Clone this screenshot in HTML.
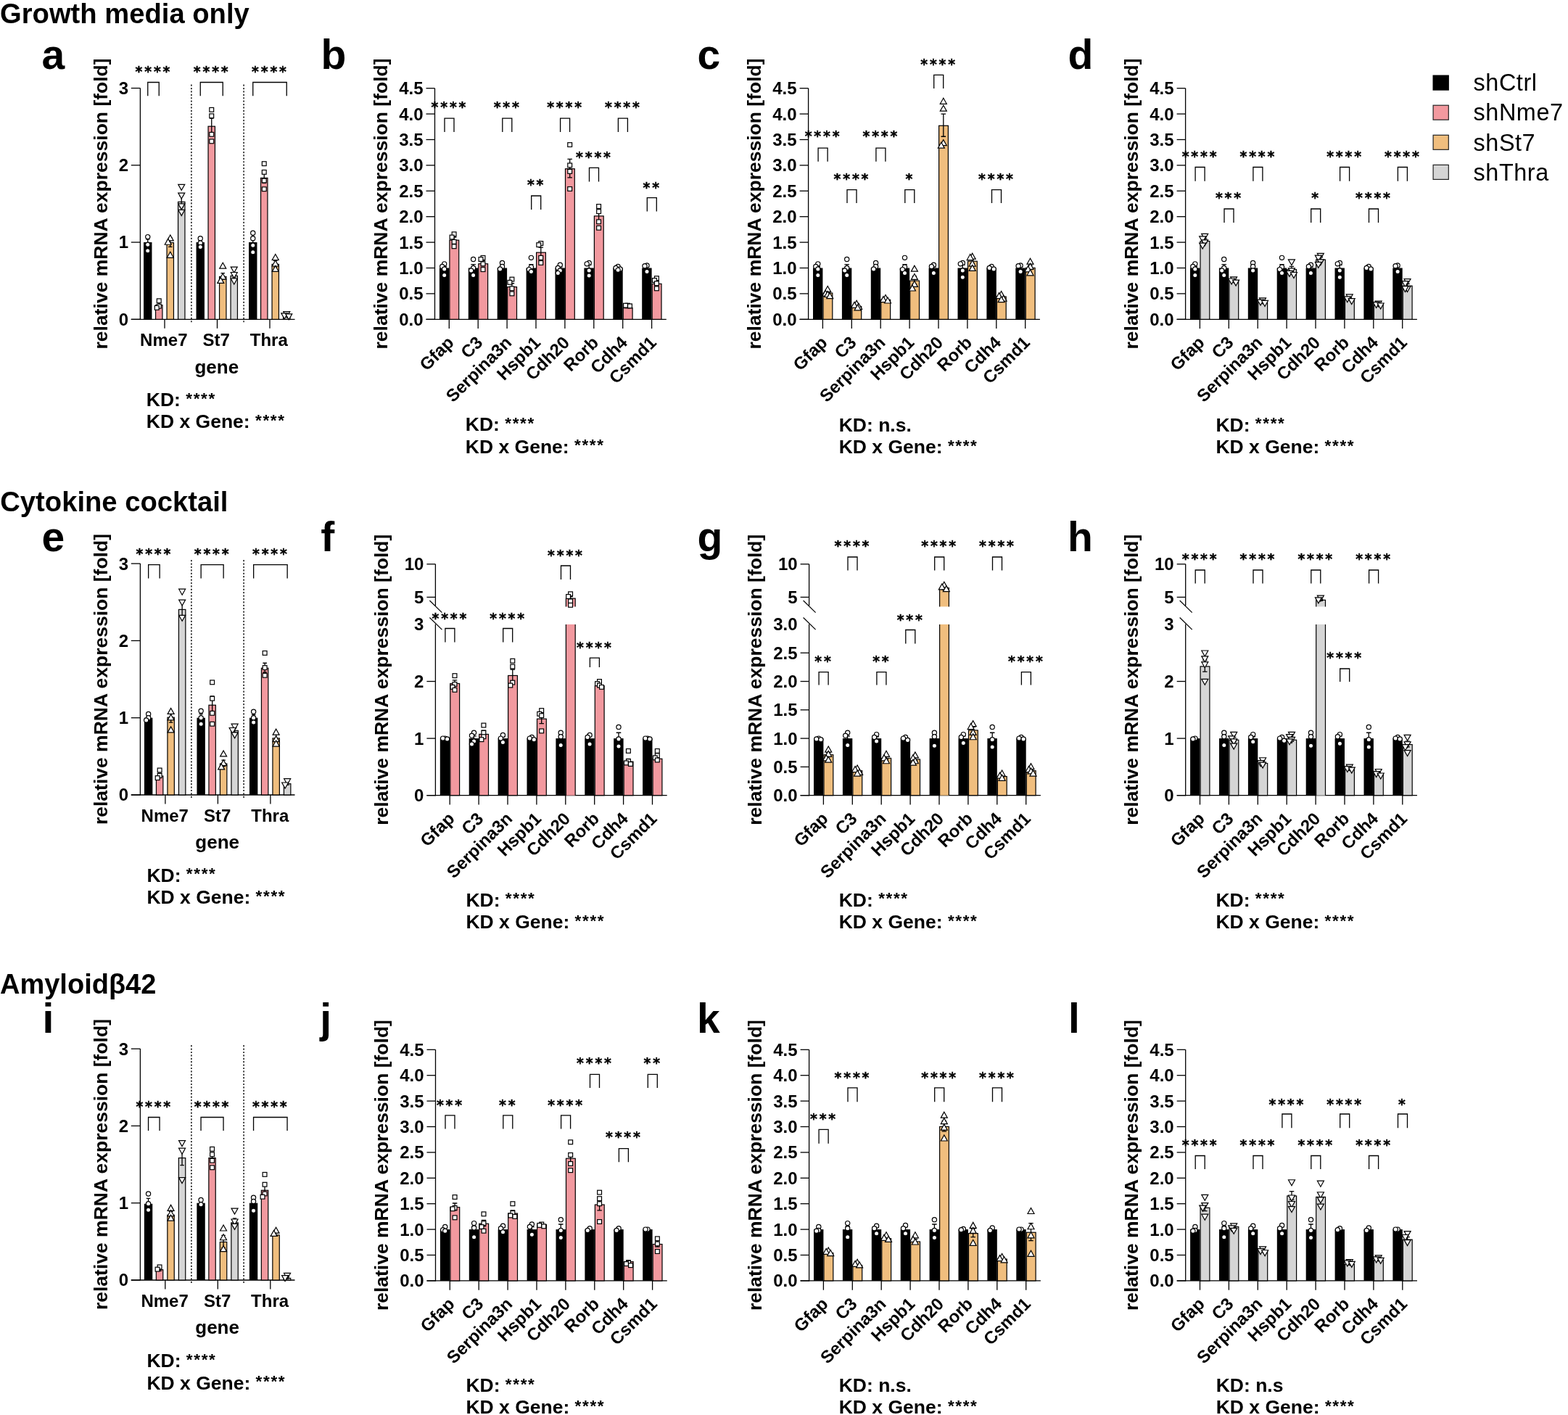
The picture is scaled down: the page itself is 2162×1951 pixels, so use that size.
<!DOCTYPE html>
<html><head><meta charset="utf-8"><title>Figure</title>
<style>
html,body{margin:0;padding:0;background:#fff;}
body{width:2162px;height:1951px;overflow:hidden;}
svg{display:block;}
svg text{font-family:'Liberation Sans', Arial, Helvetica, sans-serif;fill:#000;}
svg text.st{font-family:'DejaVu Sans',sans-serif;stroke:#000;stroke-width:0.45px;}
.m{fill:#fff;stroke:#000;stroke-width:1.2;}
</style></head><body>
<svg xmlns="http://www.w3.org/2000/svg" width="2162" height="1951" viewBox="0 0 2162 1951">
<rect width="2162" height="1951" fill="#fff"/>
<line x1="193.4" y1="121.55" x2="193.4" y2="440.9" stroke="#000" stroke-width="1.3"/>
<line x1="180.8" y1="440.3" x2="193.4" y2="440.3" stroke="#000" stroke-width="1.3"/>
<text x="177.2" y="448.7" font-size="24" font-weight="bold" text-anchor="end">0</text>
<line x1="180.8" y1="334.05" x2="193.4" y2="334.05" stroke="#000" stroke-width="1.3"/>
<text x="177.2" y="342.45" font-size="24" font-weight="bold" text-anchor="end">1</text>
<line x1="180.8" y1="227.8" x2="193.4" y2="227.8" stroke="#000" stroke-width="1.3"/>
<text x="177.2" y="236.2" font-size="24" font-weight="bold" text-anchor="end">2</text>
<line x1="180.8" y1="121.55" x2="193.4" y2="121.55" stroke="#000" stroke-width="1.3"/>
<text x="177.2" y="129.95" font-size="24" font-weight="bold" text-anchor="end">3</text>
<line x1="180.8" y1="440.3" x2="406.5" y2="440.3" stroke="#000" stroke-width="1.3"/>
<line x1="227" y1="440.3" x2="227" y2="452.8" stroke="#000" stroke-width="1.3"/>
<line x1="299.5" y1="440.3" x2="299.5" y2="452.8" stroke="#000" stroke-width="1.3"/>
<line x1="372" y1="440.3" x2="372" y2="452.8" stroke="#000" stroke-width="1.3"/>
<line x1="263.9" y1="116.55" x2="263.9" y2="446.3" stroke="#000" stroke-width="1.4" stroke-dasharray="2.2 2.2"/>
<line x1="336.1" y1="116.55" x2="336.1" y2="446.3" stroke="#000" stroke-width="1.4" stroke-dasharray="2.2 2.2"/>
<rect x="198.05" y="334.05" width="11.4" height="106.25" fill="#000"/>
<rect x="214.55" y="420.71" width="9.4" height="19.59" fill="#F2999F" stroke="#000" stroke-width="1.2"/>
<rect x="230.05" y="334.65" width="9.4" height="105.65" fill="#F0BE7E" stroke="#000" stroke-width="1.2"/>
<rect x="245.55" y="278.34" width="9.4" height="161.96" fill="#D5D5D5" stroke="#000" stroke-width="1.2"/>
<path d="M203.75 338.3V329.8M201 329.8H206.5M201 338.3H206.5" fill="none" stroke="#000" stroke-width="1.3"/>
<circle cx="203.75" cy="326.61" r="3.1" class="m"/>
<circle cx="203.75" cy="337.24" r="3.1" class="m"/>
<circle cx="203.75" cy="345.74" r="3.1" class="m"/>
<path d="M219.25 423.3V416.93M216.5 416.93H222M216.5 423.3H222" fill="none" stroke="#000" stroke-width="1.3"/>
<rect x="216.35" y="411.9" width="5.8" height="5.8" class="m"/>
<rect x="216.35" y="419.34" width="5.8" height="5.8" class="m"/>
<rect x="213.35" y="421.46" width="5.8" height="5.8" class="m"/>
<path d="M234.75 340.43V327.68M232 327.68H237.5M232 340.43H237.5" fill="none" stroke="#000" stroke-width="1.3"/>
<polygon points="234.75,323.94 230.25,331.94 239.25,331.94" class="m"/>
<polygon points="231.75,329.25 227.25,337.25 236.25,337.25" class="m"/>
<polygon points="234.75,347.31 230.25,355.31 239.25,355.31" class="m"/>
<path d="M250.25 285.18V270.3M247.5 270.3H253M247.5 285.18H253" fill="none" stroke="#000" stroke-width="1.3"/>
<polygon points="250.25,262.35 245.75,254.35 254.75,254.35" class="m"/>
<polygon points="250.25,274.04 245.75,266.04 254.75,266.04" class="m"/>
<polygon points="250.25,288.91 245.75,280.91 254.75,280.91" class="m"/>
<polygon points="250.25,297.41 245.75,289.41 254.75,289.41" class="m"/>
<rect x="270.55" y="334.05" width="11.4" height="106.25" fill="#000"/>
<rect x="287.05" y="174.21" width="9.4" height="266.09" fill="#F2999F" stroke="#000" stroke-width="1.2"/>
<rect x="302.55" y="381.4" width="9.4" height="58.9" fill="#F0BE7E" stroke="#000" stroke-width="1.2"/>
<rect x="318.05" y="380.34" width="9.4" height="59.96" fill="#D5D5D5" stroke="#000" stroke-width="1.2"/>
<path d="M276.25 336.18V331.93M273.5 331.93H279M273.5 336.18H279" fill="none" stroke="#000" stroke-width="1.3"/>
<circle cx="276.25" cy="328.74" r="3.1" class="m"/>
<circle cx="276.25" cy="335.11" r="3.1" class="m"/>
<circle cx="276.25" cy="340.43" r="3.1" class="m"/>
<path d="M291.75 184.24V162.99M289 162.99H294.5M289 184.24H294.5" fill="none" stroke="#000" stroke-width="1.3"/>
<rect x="288.85" y="148.4" width="5.8" height="5.8" class="m"/>
<rect x="288.85" y="156.9" width="5.8" height="5.8" class="m"/>
<rect x="288.85" y="182.4" width="5.8" height="5.8" class="m"/>
<rect x="288.85" y="191.96" width="5.8" height="5.8" class="m"/>
<path d="M307.25 385.05V376.55M304.5 376.55H310M304.5 385.05H310" fill="none" stroke="#000" stroke-width="1.3"/>
<polygon points="307.25,362.19 302.75,370.19 311.75,370.19" class="m"/>
<polygon points="307.25,377.06 302.75,385.06 311.75,385.06" class="m"/>
<polygon points="304.25,382.38 299.75,390.38 308.75,390.38" class="m"/>
<path d="M322.75 382.93V376.55M320 376.55H325.5M320 382.93H325.5" fill="none" stroke="#000" stroke-width="1.3"/>
<polygon points="322.75,376.04 318.25,368.04 327.25,368.04" class="m"/>
<polygon points="322.75,383.48 318.25,375.48 327.25,375.48" class="m"/>
<polygon points="322.75,391.98 318.25,383.98 327.25,383.98" class="m"/>
<rect x="343.05" y="334.05" width="11.4" height="106.25" fill="#000"/>
<rect x="359.55" y="245.4" width="9.4" height="194.9" fill="#F2999F" stroke="#000" stroke-width="1.2"/>
<rect x="375.05" y="364.4" width="9.4" height="75.9" fill="#F0BE7E" stroke="#000" stroke-width="1.2"/>
<rect x="390.55" y="435.59" width="9.4" height="4.71" fill="#D5D5D5" stroke="#000" stroke-width="1.2"/>
<path d="M348.75 339.36V328.74M346 328.74H351.5M346 339.36H351.5" fill="none" stroke="#000" stroke-width="1.3"/>
<circle cx="348.75" cy="321.3" r="3.1" class="m"/>
<circle cx="348.75" cy="328.74" r="3.1" class="m"/>
<circle cx="348.75" cy="338.3" r="3.1" class="m"/>
<circle cx="348.75" cy="347.86" r="3.1" class="m"/>
<path d="M364.25 252.24V237.36M361.5 237.36H367M361.5 252.24H367" fill="none" stroke="#000" stroke-width="1.3"/>
<rect x="361.35" y="222.78" width="5.8" height="5.8" class="m"/>
<rect x="361.35" y="234.46" width="5.8" height="5.8" class="m"/>
<rect x="361.35" y="246.15" width="5.8" height="5.8" class="m"/>
<rect x="361.35" y="257.84" width="5.8" height="5.8" class="m"/>
<path d="M379.75 368.05V359.55M377 359.55H382.5M377 368.05H382.5" fill="none" stroke="#000" stroke-width="1.3"/>
<polygon points="379.75,350.5 375.25,358.5 384.25,358.5" class="m"/>
<polygon points="379.75,359 375.25,367 384.25,367" class="m"/>
<polygon points="379.75,366.44 375.25,374.44 384.25,374.44" class="m"/>
<path d="M395.25 436.05V433.93M392.5 433.93H398M392.5 436.05H398" fill="none" stroke="#000" stroke-width="1.3"/>
<polygon points="395.25,437.66 390.75,429.66 399.75,429.66" class="m"/>
<polygon points="392.25,439.79 387.75,431.79 396.75,431.79" class="m"/>
<polygon points="398.25,440.85 393.75,432.85 402.75,432.85" class="m"/>
<path d="M203.75 132.3V113.5H219.25V132.3" fill="none" stroke="#000" stroke-width="1.3"/>
<text x="186.61" y="104.77" font-size="18.8" font-weight="bold" letter-spacing="2.82" class="st">****</text>
<path d="M276.25 132.3V113.5H307.25V132.3" fill="none" stroke="#000" stroke-width="1.3"/>
<text x="266.86" y="104.77" font-size="18.8" font-weight="bold" letter-spacing="2.82" class="st">****</text>
<path d="M348.75 132.3V113.5H395.25V132.3" fill="none" stroke="#000" stroke-width="1.3"/>
<text x="347.11" y="104.77" font-size="18.8" font-weight="bold" letter-spacing="2.82" class="st">****</text>
<text x="225.8" y="477.3" font-size="24" font-weight="bold" text-anchor="middle">Nme7</text>
<text x="298.3" y="477.3" font-size="24" font-weight="bold" text-anchor="middle">St7</text>
<text x="370.8" y="477.3" font-size="24" font-weight="bold" text-anchor="middle">Thra</text>
<text x="298.8" y="514.5" font-size="26" font-weight="bold" text-anchor="middle">gene</text>
<text transform="translate(147.7 280.93) rotate(-90)" font-size="26.5" font-weight="bold" text-anchor="middle">relative mRNA expression [fold]</text>
<text x="201.8" y="560" font-size="26.5" font-weight="bold" text-anchor="start">KD: <tspan font-size="22.5" letter-spacing="1.65" dy="-3.3">****</tspan></text>
<text x="201.8" y="590.4" font-size="26.5" font-weight="bold" text-anchor="start">KD x Gene: <tspan font-size="22.5" letter-spacing="1.65" dy="-3.3">****</tspan></text>
<line x1="193.4" y1="777.1" x2="193.4" y2="1096.6" stroke="#000" stroke-width="1.3"/>
<line x1="180.8" y1="1096" x2="193.4" y2="1096" stroke="#000" stroke-width="1.3"/>
<text x="177.2" y="1104.4" font-size="24" font-weight="bold" text-anchor="end">0</text>
<line x1="180.8" y1="989.7" x2="193.4" y2="989.7" stroke="#000" stroke-width="1.3"/>
<text x="177.2" y="998.1" font-size="24" font-weight="bold" text-anchor="end">1</text>
<line x1="180.8" y1="883.4" x2="193.4" y2="883.4" stroke="#000" stroke-width="1.3"/>
<text x="177.2" y="891.8" font-size="24" font-weight="bold" text-anchor="end">2</text>
<line x1="180.8" y1="777.1" x2="193.4" y2="777.1" stroke="#000" stroke-width="1.3"/>
<text x="177.2" y="785.5" font-size="24" font-weight="bold" text-anchor="end">3</text>
<line x1="180.8" y1="1096" x2="406.5" y2="1096" stroke="#000" stroke-width="1.3"/>
<line x1="227.9" y1="1096" x2="227.9" y2="1108.5" stroke="#000" stroke-width="1.3"/>
<line x1="300.4" y1="1096" x2="300.4" y2="1108.5" stroke="#000" stroke-width="1.3"/>
<line x1="372.9" y1="1096" x2="372.9" y2="1108.5" stroke="#000" stroke-width="1.3"/>
<line x1="263.9" y1="772.1" x2="263.9" y2="1102" stroke="#000" stroke-width="1.4" stroke-dasharray="2.2 2.2"/>
<line x1="336.1" y1="772.1" x2="336.1" y2="1102" stroke="#000" stroke-width="1.4" stroke-dasharray="2.2 2.2"/>
<rect x="198.95" y="989.7" width="11.4" height="106.3" fill="#000"/>
<rect x="215.45" y="1070.02" width="9.4" height="25.98" fill="#F2999F" stroke="#000" stroke-width="1.2"/>
<rect x="230.95" y="989.24" width="9.4" height="106.76" fill="#F0BE7E" stroke="#000" stroke-width="1.2"/>
<rect x="246.45" y="840.42" width="9.4" height="255.58" fill="#D5D5D5" stroke="#000" stroke-width="1.2"/>
<path d="M204.65 991.83V987.57M201.9 987.57H207.4M201.9 991.83H207.4" fill="none" stroke="#000" stroke-width="1.3"/>
<circle cx="204.65" cy="984.38" r="3.1" class="m"/>
<circle cx="204.65" cy="989.7" r="3.1" class="m"/>
<circle cx="201.65" cy="992.89" r="3.1" class="m"/>
<path d="M220.15 1072.61V1066.24M217.4 1066.24H222.9M217.4 1072.61H222.9" fill="none" stroke="#000" stroke-width="1.3"/>
<rect x="217.25" y="1059.08" width="5.8" height="5.8" class="m"/>
<rect x="217.25" y="1066.52" width="5.8" height="5.8" class="m"/>
<rect x="214.25" y="1069.71" width="5.8" height="5.8" class="m"/>
<path d="M235.65 996.08V981.2M232.9 981.2H238.4M232.9 996.08H238.4" fill="none" stroke="#000" stroke-width="1.3"/>
<polygon points="235.65,976.4 231.15,984.4 240.15,984.4" class="m"/>
<polygon points="235.65,984.9 231.15,992.9 240.15,992.9" class="m"/>
<polygon points="235.65,1001.91 231.15,1009.91 240.15,1009.91" class="m"/>
<path d="M251.15 850.45V829.19M248.4 829.19H253.9M248.4 850.45H253.9" fill="none" stroke="#000" stroke-width="1.3"/>
<polygon points="251.15,820.17 246.65,812.17 255.65,812.17" class="m"/>
<polygon points="251.15,835.05 246.65,827.05 255.65,827.05" class="m"/>
<polygon points="251.15,856.31 246.65,848.31 255.65,848.31" class="m"/>
<rect x="271.45" y="989.7" width="11.4" height="106.3" fill="#000"/>
<rect x="287.95" y="972.23" width="9.4" height="123.77" fill="#F2999F" stroke="#000" stroke-width="1.2"/>
<rect x="303.45" y="1053.02" width="9.4" height="42.98" fill="#F0BE7E" stroke="#000" stroke-width="1.2"/>
<rect x="318.95" y="1007.31" width="9.4" height="88.69" fill="#D5D5D5" stroke="#000" stroke-width="1.2"/>
<path d="M277.15 995.01V984.38M274.4 984.38H279.9M274.4 995.01H279.9" fill="none" stroke="#000" stroke-width="1.3"/>
<circle cx="277.15" cy="980.13" r="3.1" class="m"/>
<circle cx="277.15" cy="989.7" r="3.1" class="m"/>
<circle cx="277.15" cy="998.2" r="3.1" class="m"/>
<path d="M292.65 983.32V959.94M289.9 959.94H295.4M289.9 983.32H295.4" fill="none" stroke="#000" stroke-width="1.3"/>
<rect x="289.75" y="937.9" width="5.8" height="5.8" class="m"/>
<rect x="289.75" y="960.23" width="5.8" height="5.8" class="m"/>
<rect x="289.75" y="980.42" width="5.8" height="5.8" class="m"/>
<rect x="289.75" y="995.3" width="5.8" height="5.8" class="m"/>
<path d="M308.15 1056.67V1048.16M305.4 1048.16H310.9M305.4 1056.67H310.9" fill="none" stroke="#000" stroke-width="1.3"/>
<polygon points="308.15,1034.86 303.65,1042.86 312.65,1042.86" class="m"/>
<polygon points="308.15,1047.62 303.65,1055.62 312.65,1055.62" class="m"/>
<polygon points="305.15,1052.93 300.65,1060.93 309.65,1060.93" class="m"/>
<path d="M323.65 1009.9V1003.52M320.9 1003.52H326.4M320.9 1009.9H326.4" fill="none" stroke="#000" stroke-width="1.3"/>
<polygon points="323.65,1006.19 319.15,998.19 328.15,998.19" class="m"/>
<polygon points="320.65,1011.51 316.15,1003.51 325.15,1003.51" class="m"/>
<polygon points="323.65,1017.89 319.15,1009.89 328.15,1009.89" class="m"/>
<rect x="343.95" y="989.7" width="11.4" height="106.3" fill="#000"/>
<rect x="360.45" y="921.21" width="9.4" height="174.79" fill="#F2999F" stroke="#000" stroke-width="1.2"/>
<rect x="375.95" y="1017.94" width="9.4" height="78.06" fill="#F0BE7E" stroke="#000" stroke-width="1.2"/>
<rect x="391.45" y="1080.65" width="9.4" height="15.34" fill="#D5D5D5" stroke="#000" stroke-width="1.2"/>
<path d="M349.65 993.95V985.45M346.9 985.45H352.4M346.9 993.95H352.4" fill="none" stroke="#000" stroke-width="1.3"/>
<circle cx="349.65" cy="981.2" r="3.1" class="m"/>
<circle cx="349.65" cy="989.7" r="3.1" class="m"/>
<circle cx="349.65" cy="996.08" r="3.1" class="m"/>
<path d="M365.15 926.98V914.23M362.4 914.23H367.9M362.4 926.98H367.9" fill="none" stroke="#000" stroke-width="1.3"/>
<rect x="362.25" y="897.51" width="5.8" height="5.8" class="m"/>
<rect x="362.25" y="917.71" width="5.8" height="5.8" class="m"/>
<rect x="362.25" y="928.34" width="5.8" height="5.8" class="m"/>
<path d="M380.65 1022.65V1012.02M377.9 1012.02H383.4M377.9 1022.65H383.4" fill="none" stroke="#000" stroke-width="1.3"/>
<polygon points="380.65,1005.1 376.15,1013.1 385.15,1013.1" class="m"/>
<polygon points="380.65,1014.66 376.15,1022.66 385.15,1022.66" class="m"/>
<polygon points="380.65,1021.04 376.15,1029.04 385.15,1029.04" class="m"/>
<path d="M396.15 1082.18V1077.93M393.4 1077.93H398.9M393.4 1082.18H398.9" fill="none" stroke="#000" stroke-width="1.3"/>
<polygon points="396.15,1081.67 391.65,1073.67 400.65,1073.67" class="m"/>
<polygon points="393.15,1086.98 388.65,1078.98 397.65,1078.98" class="m"/>
<path d="M204.65 797.6V778.7H220.15V797.6" fill="none" stroke="#000" stroke-width="1.3"/>
<text x="187.51" y="769.57" font-size="18.8" font-weight="bold" letter-spacing="2.82" class="st">****</text>
<path d="M277.15 797.6V778.7H308.15V797.6" fill="none" stroke="#000" stroke-width="1.3"/>
<text x="267.76" y="769.57" font-size="18.8" font-weight="bold" letter-spacing="2.82" class="st">****</text>
<path d="M349.65 797.6V778.7H396.15V797.6" fill="none" stroke="#000" stroke-width="1.3"/>
<text x="348.01" y="769.57" font-size="18.8" font-weight="bold" letter-spacing="2.82" class="st">****</text>
<text x="227.24" y="1133" font-size="24" font-weight="bold" text-anchor="middle">Nme7</text>
<text x="299.74" y="1133" font-size="24" font-weight="bold" text-anchor="middle">St7</text>
<text x="372.24" y="1133" font-size="24" font-weight="bold" text-anchor="middle">Thra</text>
<text x="299.7" y="1170.2" font-size="26" font-weight="bold" text-anchor="middle">gene</text>
<text transform="translate(147.7 936.55) rotate(-90)" font-size="26.5" font-weight="bold" text-anchor="middle">relative mRNA expression [fold]</text>
<text x="202.4" y="1215.5" font-size="26.5" font-weight="bold" text-anchor="start">KD: <tspan font-size="22.5" letter-spacing="1.65" dy="-3.3">****</tspan></text>
<text x="202.4" y="1245.8" font-size="26.5" font-weight="bold" text-anchor="start">KD x Gene: <tspan font-size="22.5" letter-spacing="1.65" dy="-3.3">****</tspan></text>
<line x1="193.4" y1="1446.1" x2="193.4" y2="1765.6" stroke="#000" stroke-width="1.3"/>
<line x1="180.8" y1="1765" x2="193.4" y2="1765" stroke="#000" stroke-width="1.3"/>
<text x="177.2" y="1773.4" font-size="24" font-weight="bold" text-anchor="end">0</text>
<line x1="180.8" y1="1658.7" x2="193.4" y2="1658.7" stroke="#000" stroke-width="1.3"/>
<text x="177.2" y="1667.1" font-size="24" font-weight="bold" text-anchor="end">1</text>
<line x1="180.8" y1="1552.4" x2="193.4" y2="1552.4" stroke="#000" stroke-width="1.3"/>
<text x="177.2" y="1560.8" font-size="24" font-weight="bold" text-anchor="end">2</text>
<line x1="180.8" y1="1446.1" x2="193.4" y2="1446.1" stroke="#000" stroke-width="1.3"/>
<text x="177.2" y="1454.5" font-size="24" font-weight="bold" text-anchor="end">3</text>
<line x1="180.8" y1="1765" x2="406.5" y2="1765" stroke="#000" stroke-width="1.3"/>
<line x1="227.8" y1="1765" x2="227.8" y2="1777.5" stroke="#000" stroke-width="1.3"/>
<line x1="300.3" y1="1765" x2="300.3" y2="1777.5" stroke="#000" stroke-width="1.3"/>
<line x1="372.8" y1="1765" x2="372.8" y2="1777.5" stroke="#000" stroke-width="1.3"/>
<line x1="263.9" y1="1441.1" x2="263.9" y2="1771" stroke="#000" stroke-width="1.4" stroke-dasharray="2.2 2.2"/>
<line x1="336.1" y1="1441.1" x2="336.1" y2="1771" stroke="#000" stroke-width="1.4" stroke-dasharray="2.2 2.2"/>
<rect x="198.85" y="1659.76" width="11.4" height="105.24" fill="#000"/>
<rect x="215.35" y="1750.72" width="9.4" height="14.28" fill="#F2999F" stroke="#000" stroke-width="1.2"/>
<rect x="230.85" y="1675.24" width="9.4" height="89.76" fill="#F0BE7E" stroke="#000" stroke-width="1.2"/>
<rect x="246.35" y="1596.58" width="9.4" height="168.42" fill="#D5D5D5" stroke="#000" stroke-width="1.2"/>
<path d="M204.55 1667.2V1652.32M201.8 1652.32H207.3M201.8 1667.2H207.3" fill="none" stroke="#000" stroke-width="1.3"/>
<circle cx="204.55" cy="1645.94" r="3.1" class="m"/>
<circle cx="204.55" cy="1659.76" r="3.1" class="m"/>
<circle cx="204.55" cy="1668.27" r="3.1" class="m"/>
<path d="M220.05 1752.24V1747.99M217.3 1747.99H222.8M217.3 1752.24H222.8" fill="none" stroke="#000" stroke-width="1.3"/>
<rect x="217.15" y="1744.03" width="5.8" height="5.8" class="m"/>
<rect x="214.15" y="1747.22" width="5.8" height="5.8" class="m"/>
<path d="M235.55 1678.9V1670.39M232.8 1670.39H238.3M232.8 1678.9H238.3" fill="none" stroke="#000" stroke-width="1.3"/>
<polygon points="235.55,1661.34 231.05,1669.34 240.05,1669.34" class="m"/>
<polygon points="235.55,1668.78 231.05,1676.78 240.05,1676.78" class="m"/>
<polygon points="235.55,1675.16 231.05,1683.16 240.05,1683.16" class="m"/>
<path d="M251.05 1606.61V1585.35M248.3 1585.35H253.8M248.3 1606.61H253.8" fill="none" stroke="#000" stroke-width="1.3"/>
<polygon points="251.05,1580.59 246.55,1572.59 255.55,1572.59" class="m"/>
<polygon points="251.05,1591.22 246.55,1583.22 255.55,1583.22" class="m"/>
<polygon points="251.05,1631.61 246.55,1623.61 255.55,1623.61" class="m"/>
<rect x="271.35" y="1658.7" width="11.4" height="106.3" fill="#000"/>
<rect x="287.85" y="1596.58" width="9.4" height="168.42" fill="#F2999F" stroke="#000" stroke-width="1.2"/>
<rect x="303.35" y="1712.45" width="9.4" height="52.55" fill="#F0BE7E" stroke="#000" stroke-width="1.2"/>
<rect x="318.85" y="1685.88" width="9.4" height="79.12" fill="#D5D5D5" stroke="#000" stroke-width="1.2"/>
<path d="M277.05 1660.83V1656.57M274.3 1656.57H279.8M274.3 1660.83H279.8" fill="none" stroke="#000" stroke-width="1.3"/>
<circle cx="277.05" cy="1654.45" r="3.1" class="m"/>
<circle cx="277.05" cy="1660.83" r="3.1" class="m"/>
<path d="M292.55 1601.3V1590.67M289.8 1590.67H295.3M289.8 1601.3H295.3" fill="none" stroke="#000" stroke-width="1.3"/>
<rect x="289.65" y="1581.39" width="5.8" height="5.8" class="m"/>
<rect x="289.65" y="1588.83" width="5.8" height="5.8" class="m"/>
<rect x="289.65" y="1597.34" width="5.8" height="5.8" class="m"/>
<rect x="289.65" y="1606.9" width="5.8" height="5.8" class="m"/>
<path d="M308.05 1720.35V1703.35M305.3 1703.35H310.8M305.3 1720.35H310.8" fill="none" stroke="#000" stroke-width="1.3"/>
<polygon points="308.05,1688.98 303.55,1696.98 312.55,1696.98" class="m"/>
<polygon points="308.05,1701.74 303.55,1709.74 312.55,1709.74" class="m"/>
<polygon points="308.05,1717.68 303.55,1725.68 312.55,1725.68" class="m"/>
<path d="M323.55 1690.59V1679.96M320.8 1679.96H326.3M320.8 1690.59H326.3" fill="none" stroke="#000" stroke-width="1.3"/>
<polygon points="323.55,1674.13 319.05,1666.13 328.05,1666.13" class="m"/>
<polygon points="323.55,1689.01 319.05,1681.01 328.05,1681.01" class="m"/>
<polygon points="323.55,1695.39 319.05,1687.39 328.05,1687.39" class="m"/>
<rect x="343.85" y="1658.7" width="11.4" height="106.3" fill="#000"/>
<rect x="360.35" y="1641.23" width="9.4" height="123.77" fill="#F2999F" stroke="#000" stroke-width="1.2"/>
<rect x="375.85" y="1702.88" width="9.4" height="62.12" fill="#F0BE7E" stroke="#000" stroke-width="1.2"/>
<rect x="391.35" y="1762.41" width="9.4" height="2.59" fill="#D5D5D5" stroke="#000" stroke-width="1.2"/>
<path d="M349.55 1665.08V1652.32M346.8 1652.32H352.3M346.8 1665.08H352.3" fill="none" stroke="#000" stroke-width="1.3"/>
<circle cx="349.55" cy="1651.26" r="3.1" class="m"/>
<circle cx="349.55" cy="1656.57" r="3.1" class="m"/>
<circle cx="349.55" cy="1669.33" r="3.1" class="m"/>
<path d="M365.05 1647.01V1634.25M362.3 1634.25H367.8M362.3 1647.01H367.8" fill="none" stroke="#000" stroke-width="1.3"/>
<rect x="362.15" y="1616.47" width="5.8" height="5.8" class="m"/>
<rect x="362.15" y="1630.29" width="5.8" height="5.8" class="m"/>
<rect x="362.15" y="1643.04" width="5.8" height="5.8" class="m"/>
<rect x="359.15" y="1647.3" width="5.8" height="5.8" class="m"/>
<path d="M380.55 1704.41V1700.16M377.8 1700.16H383.3M377.8 1704.41H383.3" fill="none" stroke="#000" stroke-width="1.3"/>
<polygon points="380.55,1692.17 376.05,1700.17 385.05,1700.17" class="m"/>
<polygon points="377.55,1696.42 373.05,1704.42 382.05,1704.42" class="m"/>
<path d="M396.05 1762.87V1760.75M393.3 1760.75H398.8M393.3 1762.87H398.8" fill="none" stroke="#000" stroke-width="1.3"/>
<polygon points="396.05,1763.42 391.55,1755.42 400.55,1755.42" class="m"/>
<polygon points="393.05,1766.61 388.55,1758.61 397.55,1758.61" class="m"/>
<path d="M204.55 1559V1540.5H220.05V1559" fill="none" stroke="#000" stroke-width="1.3"/>
<text x="187.41" y="1531.97" font-size="18.8" font-weight="bold" letter-spacing="2.82" class="st">****</text>
<path d="M277.05 1559V1540.5H308.05V1559" fill="none" stroke="#000" stroke-width="1.3"/>
<text x="267.66" y="1531.97" font-size="18.8" font-weight="bold" letter-spacing="2.82" class="st">****</text>
<path d="M349.55 1559V1540.5H396.05V1559" fill="none" stroke="#000" stroke-width="1.3"/>
<text x="347.91" y="1531.97" font-size="18.8" font-weight="bold" letter-spacing="2.82" class="st">****</text>
<text x="227.08" y="1802" font-size="24" font-weight="bold" text-anchor="middle">Nme7</text>
<text x="299.58" y="1802" font-size="24" font-weight="bold" text-anchor="middle">St7</text>
<text x="372.08" y="1802" font-size="24" font-weight="bold" text-anchor="middle">Thra</text>
<text x="299.6" y="1839.2" font-size="26" font-weight="bold" text-anchor="middle">gene</text>
<text transform="translate(147.7 1605.55) rotate(-90)" font-size="26.5" font-weight="bold" text-anchor="middle">relative mRNA expression [fold]</text>
<text x="202.4" y="1885.2" font-size="26.5" font-weight="bold" text-anchor="start">KD: <tspan font-size="22.5" letter-spacing="1.65" dy="-3.3">****</tspan></text>
<text x="202.4" y="1915.7" font-size="26.5" font-weight="bold" text-anchor="start">KD x Gene: <tspan font-size="22.5" letter-spacing="1.65" dy="-3.3">****</tspan></text>
<line x1="599.5" y1="121.7" x2="599.5" y2="440.9" stroke="#000" stroke-width="1.3"/>
<line x1="587.5" y1="440.3" x2="599.5" y2="440.3" stroke="#000" stroke-width="1.3"/>
<text x="583.5" y="448.7" font-size="24" font-weight="bold" text-anchor="end">0.0</text>
<line x1="587.5" y1="404.9" x2="599.5" y2="404.9" stroke="#000" stroke-width="1.3"/>
<text x="583.5" y="413.3" font-size="24" font-weight="bold" text-anchor="end">0.5</text>
<line x1="587.5" y1="369.5" x2="599.5" y2="369.5" stroke="#000" stroke-width="1.3"/>
<text x="583.5" y="377.9" font-size="24" font-weight="bold" text-anchor="end">1.0</text>
<line x1="587.5" y1="334.1" x2="599.5" y2="334.1" stroke="#000" stroke-width="1.3"/>
<text x="583.5" y="342.5" font-size="24" font-weight="bold" text-anchor="end">1.5</text>
<line x1="587.5" y1="298.7" x2="599.5" y2="298.7" stroke="#000" stroke-width="1.3"/>
<text x="583.5" y="307.1" font-size="24" font-weight="bold" text-anchor="end">2.0</text>
<line x1="587.5" y1="263.3" x2="599.5" y2="263.3" stroke="#000" stroke-width="1.3"/>
<text x="583.5" y="271.7" font-size="24" font-weight="bold" text-anchor="end">2.5</text>
<line x1="587.5" y1="227.9" x2="599.5" y2="227.9" stroke="#000" stroke-width="1.3"/>
<text x="583.5" y="236.3" font-size="24" font-weight="bold" text-anchor="end">3.0</text>
<line x1="587.5" y1="192.5" x2="599.5" y2="192.5" stroke="#000" stroke-width="1.3"/>
<text x="583.5" y="200.9" font-size="24" font-weight="bold" text-anchor="end">3.5</text>
<line x1="587.5" y1="157.1" x2="599.5" y2="157.1" stroke="#000" stroke-width="1.3"/>
<text x="583.5" y="165.5" font-size="24" font-weight="bold" text-anchor="end">4.0</text>
<line x1="587.5" y1="121.7" x2="599.5" y2="121.7" stroke="#000" stroke-width="1.3"/>
<text x="583.5" y="130.1" font-size="24" font-weight="bold" text-anchor="end">4.5</text>
<line x1="587.5" y1="440.3" x2="918.8" y2="440.3" stroke="#000" stroke-width="1.3"/>
<line x1="619.3" y1="440.3" x2="619.3" y2="453.1" stroke="#000" stroke-width="1.3"/>
<line x1="659.2" y1="440.3" x2="659.2" y2="453.1" stroke="#000" stroke-width="1.3"/>
<line x1="699.1" y1="440.3" x2="699.1" y2="453.1" stroke="#000" stroke-width="1.3"/>
<line x1="739" y1="440.3" x2="739" y2="453.1" stroke="#000" stroke-width="1.3"/>
<line x1="778.9" y1="440.3" x2="778.9" y2="453.1" stroke="#000" stroke-width="1.3"/>
<line x1="818.8" y1="440.3" x2="818.8" y2="453.1" stroke="#000" stroke-width="1.3"/>
<line x1="858.7" y1="440.3" x2="858.7" y2="453.1" stroke="#000" stroke-width="1.3"/>
<line x1="898.6" y1="440.3" x2="898.6" y2="453.1" stroke="#000" stroke-width="1.3"/>
<rect x="605.9" y="369.5" width="13.4" height="70.8" fill="#000"/>
<rect x="619.9" y="331.16" width="12.8" height="109.14" fill="#F2999F" stroke="#000" stroke-width="1.2"/>
<rect x="645.8" y="369.5" width="13.4" height="70.8" fill="#000"/>
<rect x="659.8" y="363.73" width="12.8" height="76.57" fill="#F2999F" stroke="#000" stroke-width="1.2"/>
<rect x="685.7" y="369.5" width="13.4" height="70.8" fill="#000"/>
<rect x="699.7" y="395.59" width="12.8" height="44.71" fill="#F2999F" stroke="#000" stroke-width="1.2"/>
<rect x="725.6" y="369.5" width="13.4" height="70.8" fill="#000"/>
<rect x="739.6" y="348.15" width="12.8" height="92.15" fill="#F2999F" stroke="#000" stroke-width="1.2"/>
<rect x="765.5" y="369.5" width="13.4" height="70.8" fill="#000"/>
<rect x="779.5" y="232.75" width="12.8" height="207.55" fill="#F2999F" stroke="#000" stroke-width="1.2"/>
<rect x="805.4" y="369.5" width="13.4" height="70.8" fill="#000"/>
<rect x="819.4" y="297.88" width="12.8" height="142.42" fill="#F2999F" stroke="#000" stroke-width="1.2"/>
<rect x="845.3" y="369.5" width="13.4" height="70.8" fill="#000"/>
<rect x="859.3" y="424.62" width="12.8" height="15.68" fill="#F2999F" stroke="#000" stroke-width="1.2"/>
<rect x="885.2" y="369.5" width="13.4" height="70.8" fill="#000"/>
<rect x="899.2" y="391.34" width="12.8" height="48.96" fill="#F2999F" stroke="#000" stroke-width="1.2"/>
<path d="M612.7 371.62V367.38M609.45 367.38H615.95M609.45 371.62H615.95" fill="none" stroke="#000" stroke-width="1.3"/>
<path d="M626.1 334.1V327.02M622.85 327.02H629.35M622.85 334.1H629.35" fill="none" stroke="#000" stroke-width="1.3"/>
<circle cx="612.7" cy="363.84" r="3.1" class="m"/>
<circle cx="609.7" cy="367.38" r="3.1" class="m"/>
<circle cx="612.7" cy="370.92" r="3.1" class="m"/>
<circle cx="612.7" cy="379.41" r="3.1" class="m"/>
<rect x="623.2" y="319.87" width="5.8" height="5.8" class="m"/>
<rect x="620.2" y="324.12" width="5.8" height="5.8" class="m"/>
<rect x="623.2" y="330.49" width="5.8" height="5.8" class="m"/>
<rect x="623.2" y="336.86" width="5.8" height="5.8" class="m"/>
<path d="M652.6 374.46V364.54M649.35 364.54H655.85M649.35 374.46H655.85" fill="none" stroke="#000" stroke-width="1.3"/>
<path d="M666 366.67V359.59M662.75 359.59H669.25M662.75 366.67H669.25" fill="none" stroke="#000" stroke-width="1.3"/>
<circle cx="652.6" cy="357.46" r="3.1" class="m"/>
<circle cx="652.6" cy="369.5" r="3.1" class="m"/>
<circle cx="649.6" cy="373.04" r="3.1" class="m"/>
<circle cx="652.6" cy="379.41" r="3.1" class="m"/>
<rect x="663.1" y="352.44" width="5.8" height="5.8" class="m"/>
<rect x="660.1" y="354.56" width="5.8" height="5.8" class="m"/>
<rect x="663.1" y="360.94" width="5.8" height="5.8" class="m"/>
<rect x="663.1" y="368.72" width="5.8" height="5.8" class="m"/>
<path d="M692.5 371.62V367.38M689.25 367.38H695.75M689.25 371.62H695.75" fill="none" stroke="#000" stroke-width="1.3"/>
<path d="M705.9 399.24V390.74M702.65 390.74H709.15M702.65 399.24H709.15" fill="none" stroke="#000" stroke-width="1.3"/>
<circle cx="692.5" cy="362.42" r="3.1" class="m"/>
<circle cx="692.5" cy="367.38" r="3.1" class="m"/>
<circle cx="689.5" cy="370.92" r="3.1" class="m"/>
<rect x="703" y="382.18" width="5.8" height="5.8" class="m"/>
<rect x="700" y="386.42" width="5.8" height="5.8" class="m"/>
<rect x="703" y="394.92" width="5.8" height="5.8" class="m"/>
<rect x="703" y="402" width="5.8" height="5.8" class="m"/>
<path d="M732.4 374.46V364.54M729.15 364.54H735.65M729.15 374.46H735.65" fill="none" stroke="#000" stroke-width="1.3"/>
<path d="M745.8 353.92V341.18M742.55 341.18H749.05M742.55 353.92H749.05" fill="none" stroke="#000" stroke-width="1.3"/>
<circle cx="732.4" cy="355.34" r="3.1" class="m"/>
<circle cx="732.4" cy="368.08" r="3.1" class="m"/>
<circle cx="729.4" cy="371.62" r="3.1" class="m"/>
<circle cx="732.4" cy="374.46" r="3.1" class="m"/>
<rect x="742.9" y="332.62" width="5.8" height="5.8" class="m"/>
<rect x="739.9" y="334.74" width="5.8" height="5.8" class="m"/>
<rect x="742.9" y="352.44" width="5.8" height="5.8" class="m"/>
<rect x="742.9" y="359.52" width="5.8" height="5.8" class="m"/>
<path d="M772.3 370.92V368.08M769.05 368.08H775.55M769.05 370.92H775.55" fill="none" stroke="#000" stroke-width="1.3"/>
<path d="M785.7 244.89V219.4M782.45 219.4H788.95M782.45 244.89H788.95" fill="none" stroke="#000" stroke-width="1.3"/>
<circle cx="772.3" cy="365.25" r="3.1" class="m"/>
<circle cx="769.3" cy="369.5" r="3.1" class="m"/>
<circle cx="772.3" cy="373.04" r="3.1" class="m"/>
<circle cx="769.3" cy="376.58" r="3.1" class="m"/>
<rect x="782.8" y="196.68" width="5.8" height="5.8" class="m"/>
<rect x="782.8" y="225" width="5.8" height="5.8" class="m"/>
<rect x="782.8" y="233.5" width="5.8" height="5.8" class="m"/>
<rect x="782.8" y="257.57" width="5.8" height="5.8" class="m"/>
<path d="M812.2 373.75V365.25M808.95 365.25H815.45M808.95 373.75H815.45" fill="none" stroke="#000" stroke-width="1.3"/>
<path d="M825.6 303.66V290.91M822.35 290.91H828.85M822.35 303.66H828.85" fill="none" stroke="#000" stroke-width="1.3"/>
<circle cx="812.2" cy="362.42" r="3.1" class="m"/>
<circle cx="809.2" cy="363.84" r="3.1" class="m"/>
<circle cx="812.2" cy="373.04" r="3.1" class="m"/>
<circle cx="812.2" cy="380.12" r="3.1" class="m"/>
<rect x="822.7" y="281.64" width="5.8" height="5.8" class="m"/>
<rect x="822.7" y="288.72" width="5.8" height="5.8" class="m"/>
<rect x="822.7" y="302.88" width="5.8" height="5.8" class="m"/>
<rect x="822.7" y="311.38" width="5.8" height="5.8" class="m"/>
<path d="M852.1 370.21V368.79M848.85 368.79H855.35M848.85 370.21H855.35" fill="none" stroke="#000" stroke-width="1.3"/>
<path d="M865.5 424.72V423.31M862.25 423.31H868.75M862.25 424.72H868.75" fill="none" stroke="#000" stroke-width="1.3"/>
<circle cx="852.1" cy="367.38" r="3.1" class="m"/>
<circle cx="849.1" cy="369.5" r="3.1" class="m"/>
<circle cx="855.1" cy="370.92" r="3.1" class="m"/>
<circle cx="852.1" cy="372.33" r="3.1" class="m"/>
<rect x="862.6" y="418.28" width="5.8" height="5.8" class="m"/>
<rect x="859.6" y="418.28" width="5.8" height="5.8" class="m"/>
<rect x="865.6" y="418.99" width="5.8" height="5.8" class="m"/>
<path d="M892 370.92V368.08M888.75 368.08H895.25M888.75 370.92H895.25" fill="none" stroke="#000" stroke-width="1.3"/>
<path d="M905.4 393.57V387.91M902.15 387.91H908.65M902.15 393.57H908.65" fill="none" stroke="#000" stroke-width="1.3"/>
<circle cx="892" cy="365.96" r="3.1" class="m"/>
<circle cx="889" cy="366.67" r="3.1" class="m"/>
<circle cx="892" cy="374.46" r="3.1" class="m"/>
<rect x="902.5" y="380.76" width="5.8" height="5.8" class="m"/>
<rect x="899.5" y="383.59" width="5.8" height="5.8" class="m"/>
<rect x="902.5" y="387.84" width="5.8" height="5.8" class="m"/>
<rect x="902.5" y="394.92" width="5.8" height="5.8" class="m"/>
<path d="M613 182V163.2H626V182" fill="none" stroke="#000" stroke-width="1.3"/>
<text x="594.61" y="153.97" font-size="18.8" font-weight="bold" letter-spacing="2.82" class="st">****</text>
<path d="M692.8 182V163.2H705.8V182" fill="none" stroke="#000" stroke-width="1.3"/>
<text x="680.73" y="153.97" font-size="18.8" font-weight="bold" letter-spacing="2.82" class="st">***</text>
<path d="M732.7 289V270H745.7V289" fill="none" stroke="#000" stroke-width="1.3"/>
<text x="726.96" y="261.37" font-size="18.8" font-weight="bold" letter-spacing="2.82" class="st">**</text>
<path d="M772.6 182V163.2H785.6V182" fill="none" stroke="#000" stroke-width="1.3"/>
<text x="754.21" y="153.97" font-size="18.8" font-weight="bold" letter-spacing="2.82" class="st">****</text>
<path d="M812.5 250.5V231.4H825.5V250.5" fill="none" stroke="#000" stroke-width="1.3"/>
<text x="794.11" y="223.37" font-size="18.8" font-weight="bold" letter-spacing="2.82" class="st">****</text>
<path d="M852.4 182V163.2H865.4V182" fill="none" stroke="#000" stroke-width="1.3"/>
<text x="834.01" y="153.97" font-size="18.8" font-weight="bold" letter-spacing="2.82" class="st">****</text>
<path d="M892.3 291.5V272.7H905.3V291.5" fill="none" stroke="#000" stroke-width="1.3"/>
<text x="886.56" y="264.77" font-size="18.8" font-weight="bold" letter-spacing="2.82" class="st">**</text>
<text transform="translate(627.1 473.8) rotate(-45)" font-size="24" font-weight="bold" text-anchor="end">Gfap</text>
<text transform="translate(667 473.8) rotate(-45)" font-size="24" font-weight="bold" text-anchor="end">C3</text>
<text transform="translate(706.9 473.8) rotate(-45)" font-size="24" font-weight="bold" text-anchor="end">Serpina3n</text>
<text transform="translate(746.8 473.8) rotate(-45)" font-size="24" font-weight="bold" text-anchor="end">Hspb1</text>
<text transform="translate(786.7 473.8) rotate(-45)" font-size="24" font-weight="bold" text-anchor="end">Cdh20</text>
<text transform="translate(826.6 473.8) rotate(-45)" font-size="24" font-weight="bold" text-anchor="end">Rorb</text>
<text transform="translate(866.5 473.8) rotate(-45)" font-size="24" font-weight="bold" text-anchor="end">Cdh4</text>
<text transform="translate(906.4 473.8) rotate(-45)" font-size="24" font-weight="bold" text-anchor="end">Csmd1</text>
<text transform="translate(534 281) rotate(-90)" font-size="26.5" font-weight="bold" text-anchor="middle">relative mRNA expression [fold]</text>
<text x="641.8" y="594.2" font-size="26.5" font-weight="bold" text-anchor="start">KD: <tspan font-size="22.5" letter-spacing="1.65" dy="-3.3">****</tspan></text>
<text x="641.8" y="624.6" font-size="26.5" font-weight="bold" text-anchor="start">KD x Gene: <tspan font-size="22.5" letter-spacing="1.65" dy="-3.3">****</tspan></text>
<line x1="1114.6" y1="121.7" x2="1114.6" y2="440.9" stroke="#000" stroke-width="1.3"/>
<line x1="1102.6" y1="440.3" x2="1114.6" y2="440.3" stroke="#000" stroke-width="1.3"/>
<text x="1098.6" y="448.7" font-size="24" font-weight="bold" text-anchor="end">0.0</text>
<line x1="1102.6" y1="404.9" x2="1114.6" y2="404.9" stroke="#000" stroke-width="1.3"/>
<text x="1098.6" y="413.3" font-size="24" font-weight="bold" text-anchor="end">0.5</text>
<line x1="1102.6" y1="369.5" x2="1114.6" y2="369.5" stroke="#000" stroke-width="1.3"/>
<text x="1098.6" y="377.9" font-size="24" font-weight="bold" text-anchor="end">1.0</text>
<line x1="1102.6" y1="334.1" x2="1114.6" y2="334.1" stroke="#000" stroke-width="1.3"/>
<text x="1098.6" y="342.5" font-size="24" font-weight="bold" text-anchor="end">1.5</text>
<line x1="1102.6" y1="298.7" x2="1114.6" y2="298.7" stroke="#000" stroke-width="1.3"/>
<text x="1098.6" y="307.1" font-size="24" font-weight="bold" text-anchor="end">2.0</text>
<line x1="1102.6" y1="263.3" x2="1114.6" y2="263.3" stroke="#000" stroke-width="1.3"/>
<text x="1098.6" y="271.7" font-size="24" font-weight="bold" text-anchor="end">2.5</text>
<line x1="1102.6" y1="227.9" x2="1114.6" y2="227.9" stroke="#000" stroke-width="1.3"/>
<text x="1098.6" y="236.3" font-size="24" font-weight="bold" text-anchor="end">3.0</text>
<line x1="1102.6" y1="192.5" x2="1114.6" y2="192.5" stroke="#000" stroke-width="1.3"/>
<text x="1098.6" y="200.9" font-size="24" font-weight="bold" text-anchor="end">3.5</text>
<line x1="1102.6" y1="157.1" x2="1114.6" y2="157.1" stroke="#000" stroke-width="1.3"/>
<text x="1098.6" y="165.5" font-size="24" font-weight="bold" text-anchor="end">4.0</text>
<line x1="1102.6" y1="121.7" x2="1114.6" y2="121.7" stroke="#000" stroke-width="1.3"/>
<text x="1098.6" y="130.1" font-size="24" font-weight="bold" text-anchor="end">4.5</text>
<line x1="1102.6" y1="440.3" x2="1433.9" y2="440.3" stroke="#000" stroke-width="1.3"/>
<line x1="1134.4" y1="440.3" x2="1134.4" y2="453.1" stroke="#000" stroke-width="1.3"/>
<line x1="1174.3" y1="440.3" x2="1174.3" y2="453.1" stroke="#000" stroke-width="1.3"/>
<line x1="1214.2" y1="440.3" x2="1214.2" y2="453.1" stroke="#000" stroke-width="1.3"/>
<line x1="1254.1" y1="440.3" x2="1254.1" y2="453.1" stroke="#000" stroke-width="1.3"/>
<line x1="1294" y1="440.3" x2="1294" y2="453.1" stroke="#000" stroke-width="1.3"/>
<line x1="1333.9" y1="440.3" x2="1333.9" y2="453.1" stroke="#000" stroke-width="1.3"/>
<line x1="1373.8" y1="440.3" x2="1373.8" y2="453.1" stroke="#000" stroke-width="1.3"/>
<line x1="1413.7" y1="440.3" x2="1413.7" y2="453.1" stroke="#000" stroke-width="1.3"/>
<rect x="1121" y="369.5" width="13.4" height="70.8" fill="#000"/>
<rect x="1135" y="404.08" width="12.8" height="36.22" fill="#F0BE7E" stroke="#000" stroke-width="1.2"/>
<rect x="1160.9" y="369.5" width="13.4" height="70.8" fill="#000"/>
<rect x="1174.9" y="422.49" width="12.8" height="17.81" fill="#F0BE7E" stroke="#000" stroke-width="1.2"/>
<rect x="1200.8" y="369.5" width="13.4" height="70.8" fill="#000"/>
<rect x="1214.8" y="413.29" width="12.8" height="27.01" fill="#F0BE7E" stroke="#000" stroke-width="1.2"/>
<rect x="1240.7" y="369.5" width="13.4" height="70.8" fill="#000"/>
<rect x="1254.7" y="387.09" width="12.8" height="53.21" fill="#F0BE7E" stroke="#000" stroke-width="1.2"/>
<rect x="1280.6" y="369.5" width="13.4" height="70.8" fill="#000"/>
<rect x="1294.6" y="173.28" width="12.8" height="267.02" fill="#F0BE7E" stroke="#000" stroke-width="1.2"/>
<rect x="1320.5" y="369.5" width="13.4" height="70.8" fill="#000"/>
<rect x="1334.5" y="360.19" width="12.8" height="80.11" fill="#F0BE7E" stroke="#000" stroke-width="1.2"/>
<rect x="1360.4" y="369.5" width="13.4" height="70.8" fill="#000"/>
<rect x="1374.4" y="409.04" width="12.8" height="31.26" fill="#F0BE7E" stroke="#000" stroke-width="1.2"/>
<rect x="1400.3" y="369.5" width="13.4" height="70.8" fill="#000"/>
<rect x="1414.3" y="369.39" width="12.8" height="70.91" fill="#F0BE7E" stroke="#000" stroke-width="1.2"/>
<path d="M1127.8 371.62V367.38M1124.55 367.38H1131.05M1124.55 371.62H1131.05" fill="none" stroke="#000" stroke-width="1.3"/>
<path d="M1141.2 405.61V401.36M1137.95 401.36H1144.45M1137.95 405.61H1144.45" fill="none" stroke="#000" stroke-width="1.3"/>
<circle cx="1127.8" cy="363.84" r="3.1" class="m"/>
<circle cx="1124.8" cy="367.38" r="3.1" class="m"/>
<circle cx="1127.8" cy="370.92" r="3.1" class="m"/>
<circle cx="1127.8" cy="379.41" r="3.1" class="m"/>
<polygon points="1141.2,394.44 1136.7,402.44 1145.7,402.44" class="m"/>
<polygon points="1138.2,400.1 1133.7,408.1 1142.7,408.1" class="m"/>
<polygon points="1141.2,401.52 1136.7,409.52 1145.7,409.52" class="m"/>
<polygon points="1144.2,403.64 1139.7,411.64 1148.7,411.64" class="m"/>
<path d="M1167.7 374.46V364.54M1164.45 364.54H1170.95M1164.45 374.46H1170.95" fill="none" stroke="#000" stroke-width="1.3"/>
<path d="M1181.1 423.31V420.48M1177.85 420.48H1184.35M1177.85 423.31H1184.35" fill="none" stroke="#000" stroke-width="1.3"/>
<circle cx="1167.7" cy="357.46" r="3.1" class="m"/>
<circle cx="1167.7" cy="369.5" r="3.1" class="m"/>
<circle cx="1164.7" cy="373.04" r="3.1" class="m"/>
<circle cx="1167.7" cy="379.41" r="3.1" class="m"/>
<polygon points="1181.1,414.26 1176.6,422.26 1185.6,422.26" class="m"/>
<polygon points="1178.1,416.38 1173.6,424.38 1182.6,424.38" class="m"/>
<polygon points="1184.1,418.51 1179.6,426.51 1188.6,426.51" class="m"/>
<polygon points="1182.6,419.92 1178.1,427.92 1187.1,427.92" class="m"/>
<path d="M1207.6 371.62V367.38M1204.35 367.38H1210.85M1204.35 371.62H1210.85" fill="none" stroke="#000" stroke-width="1.3"/>
<path d="M1221 414.1V411.27M1217.75 411.27H1224.25M1217.75 414.1H1224.25" fill="none" stroke="#000" stroke-width="1.3"/>
<circle cx="1207.6" cy="362.42" r="3.1" class="m"/>
<circle cx="1207.6" cy="367.38" r="3.1" class="m"/>
<circle cx="1204.6" cy="370.92" r="3.1" class="m"/>
<polygon points="1221,406.47 1216.5,414.47 1225.5,414.47" class="m"/>
<polygon points="1218,408.6 1213.5,416.6 1222.5,416.6" class="m"/>
<polygon points="1224,410.01 1219.5,418.01 1228.5,418.01" class="m"/>
<path d="M1247.5 374.46V364.54M1244.25 364.54H1250.75M1244.25 374.46H1250.75" fill="none" stroke="#000" stroke-width="1.3"/>
<path d="M1260.9 392.16V380.83M1257.65 380.83H1264.15M1257.65 392.16H1264.15" fill="none" stroke="#000" stroke-width="1.3"/>
<circle cx="1247.5" cy="355.34" r="3.1" class="m"/>
<circle cx="1247.5" cy="368.08" r="3.1" class="m"/>
<circle cx="1244.5" cy="371.62" r="3.1" class="m"/>
<circle cx="1247.5" cy="376.58" r="3.1" class="m"/>
<polygon points="1260.9,366.12 1256.4,374.12 1265.4,374.12" class="m"/>
<polygon points="1260.9,377.44 1256.4,385.44 1265.4,385.44" class="m"/>
<polygon points="1260.9,387.36 1256.4,395.36 1265.4,395.36" class="m"/>
<polygon points="1257.9,393.02 1253.4,401.02 1262.4,401.02" class="m"/>
<path d="M1287.4 370.92V368.08M1284.15 368.08H1290.65M1284.15 370.92H1290.65" fill="none" stroke="#000" stroke-width="1.3"/>
<path d="M1300.8 188.25V157.1M1297.55 157.1H1304.05M1297.55 188.25H1304.05" fill="none" stroke="#000" stroke-width="1.3"/>
<circle cx="1287.4" cy="365.25" r="3.1" class="m"/>
<circle cx="1284.4" cy="367.38" r="3.1" class="m"/>
<circle cx="1287.4" cy="376.58" r="3.1" class="m"/>
<polygon points="1300.8,135.31 1296.3,143.31 1305.3,143.31" class="m"/>
<polygon points="1300.8,145.22 1296.3,153.22 1305.3,153.22" class="m"/>
<polygon points="1300.8,192.66 1296.3,200.66 1305.3,200.66" class="m"/>
<polygon points="1297.8,196.2 1293.3,204.2 1302.3,204.2" class="m"/>
<path d="M1327.3 373.75V365.25M1324.05 365.25H1330.55M1324.05 373.75H1330.55" fill="none" stroke="#000" stroke-width="1.3"/>
<path d="M1340.7 363.13V356.05M1337.45 356.05H1343.95M1337.45 363.13H1343.95" fill="none" stroke="#000" stroke-width="1.3"/>
<circle cx="1327.3" cy="362.42" r="3.1" class="m"/>
<circle cx="1324.3" cy="363.84" r="3.1" class="m"/>
<circle cx="1327.3" cy="373.04" r="3.1" class="m"/>
<circle cx="1327.3" cy="382.24" r="3.1" class="m"/>
<polygon points="1340.7,349.12 1336.2,357.12 1345.2,357.12" class="m"/>
<polygon points="1337.7,350.54 1333.2,358.54 1342.2,358.54" class="m"/>
<polygon points="1340.7,359.04 1336.2,367.04 1345.2,367.04" class="m"/>
<polygon points="1340.7,365.41 1336.2,373.41 1345.2,373.41" class="m"/>
<path d="M1367.2 370.21V368.79M1363.95 368.79H1370.45M1363.95 370.21H1370.45" fill="none" stroke="#000" stroke-width="1.3"/>
<path d="M1380.6 409.86V407.02M1377.35 407.02H1383.85M1377.35 409.86H1383.85" fill="none" stroke="#000" stroke-width="1.3"/>
<circle cx="1367.2" cy="367.38" r="3.1" class="m"/>
<circle cx="1364.2" cy="369.5" r="3.1" class="m"/>
<circle cx="1370.2" cy="370.92" r="3.1" class="m"/>
<polygon points="1380.6,401.52 1376.1,409.52 1385.1,409.52" class="m"/>
<polygon points="1377.6,403.64 1373.1,411.64 1382.1,411.64" class="m"/>
<polygon points="1383.6,407.18 1379.1,415.18 1388.1,415.18" class="m"/>
<polygon points="1380.6,408.6 1376.1,416.6 1385.1,416.6" class="m"/>
<path d="M1407.1 370.92V368.08M1403.85 368.08H1410.35M1403.85 370.92H1410.35" fill="none" stroke="#000" stroke-width="1.3"/>
<path d="M1420.5 371.62V365.96M1417.25 365.96H1423.75M1417.25 371.62H1423.75" fill="none" stroke="#000" stroke-width="1.3"/>
<circle cx="1407.1" cy="365.96" r="3.1" class="m"/>
<circle cx="1404.1" cy="366.67" r="3.1" class="m"/>
<circle cx="1407.1" cy="374.46" r="3.1" class="m"/>
<polygon points="1420.5,356.2 1416,364.2 1425,364.2" class="m"/>
<polygon points="1420.5,363.28 1416,371.28 1425,371.28" class="m"/>
<polygon points="1417.5,366.82 1413,374.82 1422,374.82" class="m"/>
<polygon points="1420.5,371.78 1416,379.78 1425,379.78" class="m"/>
<path d="M1128.1 222.7V204.2H1141.1V222.7" fill="none" stroke="#000" stroke-width="1.3"/>
<text x="1109.71" y="194.37" font-size="18.8" font-weight="bold" letter-spacing="2.82" class="st">****</text>
<path d="M1168 280.1V261.6H1181V280.1" fill="none" stroke="#000" stroke-width="1.3"/>
<text x="1149.61" y="252.97" font-size="18.8" font-weight="bold" letter-spacing="2.82" class="st">****</text>
<path d="M1207.9 222.7V204.2H1220.9V222.7" fill="none" stroke="#000" stroke-width="1.3"/>
<text x="1189.51" y="194.37" font-size="18.8" font-weight="bold" letter-spacing="2.82" class="st">****</text>
<path d="M1247.8 280.1V261.6H1260.8V280.1" fill="none" stroke="#000" stroke-width="1.3"/>
<text x="1248.38" y="252.97" font-size="18.8" font-weight="bold" letter-spacing="2.82" class="st">*</text>
<path d="M1287.7 121.9V103.3H1300.7V121.9" fill="none" stroke="#000" stroke-width="1.3"/>
<text x="1269.31" y="95.17" font-size="18.8" font-weight="bold" letter-spacing="2.82" class="st">****</text>
<path d="M1367.5 280.1V261.6H1380.5V280.1" fill="none" stroke="#000" stroke-width="1.3"/>
<text x="1349.11" y="252.97" font-size="18.8" font-weight="bold" letter-spacing="2.82" class="st">****</text>
<text transform="translate(1142.2 473.8) rotate(-45)" font-size="24" font-weight="bold" text-anchor="end">Gfap</text>
<text transform="translate(1182.1 473.8) rotate(-45)" font-size="24" font-weight="bold" text-anchor="end">C3</text>
<text transform="translate(1222 473.8) rotate(-45)" font-size="24" font-weight="bold" text-anchor="end">Serpina3n</text>
<text transform="translate(1261.9 473.8) rotate(-45)" font-size="24" font-weight="bold" text-anchor="end">Hspb1</text>
<text transform="translate(1301.8 473.8) rotate(-45)" font-size="24" font-weight="bold" text-anchor="end">Cdh20</text>
<text transform="translate(1341.7 473.8) rotate(-45)" font-size="24" font-weight="bold" text-anchor="end">Rorb</text>
<text transform="translate(1381.6 473.8) rotate(-45)" font-size="24" font-weight="bold" text-anchor="end">Cdh4</text>
<text transform="translate(1421.5 473.8) rotate(-45)" font-size="24" font-weight="bold" text-anchor="end">Csmd1</text>
<text transform="translate(1049.1 281) rotate(-90)" font-size="26.5" font-weight="bold" text-anchor="middle">relative mRNA expression [fold]</text>
<text x="1156.7" y="594.7" font-size="26.5" font-weight="bold" text-anchor="start">KD: n.s.</text>
<text x="1156.7" y="624.9" font-size="26.5" font-weight="bold" text-anchor="start">KD x Gene: <tspan font-size="22.5" letter-spacing="1.65" dy="-3.3">****</tspan></text>
<line x1="1634.6" y1="121.7" x2="1634.6" y2="440.9" stroke="#000" stroke-width="1.3"/>
<line x1="1622.6" y1="440.3" x2="1634.6" y2="440.3" stroke="#000" stroke-width="1.3"/>
<text x="1618.6" y="448.7" font-size="24" font-weight="bold" text-anchor="end">0.0</text>
<line x1="1622.6" y1="404.9" x2="1634.6" y2="404.9" stroke="#000" stroke-width="1.3"/>
<text x="1618.6" y="413.3" font-size="24" font-weight="bold" text-anchor="end">0.5</text>
<line x1="1622.6" y1="369.5" x2="1634.6" y2="369.5" stroke="#000" stroke-width="1.3"/>
<text x="1618.6" y="377.9" font-size="24" font-weight="bold" text-anchor="end">1.0</text>
<line x1="1622.6" y1="334.1" x2="1634.6" y2="334.1" stroke="#000" stroke-width="1.3"/>
<text x="1618.6" y="342.5" font-size="24" font-weight="bold" text-anchor="end">1.5</text>
<line x1="1622.6" y1="298.7" x2="1634.6" y2="298.7" stroke="#000" stroke-width="1.3"/>
<text x="1618.6" y="307.1" font-size="24" font-weight="bold" text-anchor="end">2.0</text>
<line x1="1622.6" y1="263.3" x2="1634.6" y2="263.3" stroke="#000" stroke-width="1.3"/>
<text x="1618.6" y="271.7" font-size="24" font-weight="bold" text-anchor="end">2.5</text>
<line x1="1622.6" y1="227.9" x2="1634.6" y2="227.9" stroke="#000" stroke-width="1.3"/>
<text x="1618.6" y="236.3" font-size="24" font-weight="bold" text-anchor="end">3.0</text>
<line x1="1622.6" y1="192.5" x2="1634.6" y2="192.5" stroke="#000" stroke-width="1.3"/>
<text x="1618.6" y="200.9" font-size="24" font-weight="bold" text-anchor="end">3.5</text>
<line x1="1622.6" y1="157.1" x2="1634.6" y2="157.1" stroke="#000" stroke-width="1.3"/>
<text x="1618.6" y="165.5" font-size="24" font-weight="bold" text-anchor="end">4.0</text>
<line x1="1622.6" y1="121.7" x2="1634.6" y2="121.7" stroke="#000" stroke-width="1.3"/>
<text x="1618.6" y="130.1" font-size="24" font-weight="bold" text-anchor="end">4.5</text>
<line x1="1622.6" y1="440.3" x2="1953.9" y2="440.3" stroke="#000" stroke-width="1.3"/>
<line x1="1654.4" y1="440.3" x2="1654.4" y2="453.1" stroke="#000" stroke-width="1.3"/>
<line x1="1694.3" y1="440.3" x2="1694.3" y2="453.1" stroke="#000" stroke-width="1.3"/>
<line x1="1734.2" y1="440.3" x2="1734.2" y2="453.1" stroke="#000" stroke-width="1.3"/>
<line x1="1774.1" y1="440.3" x2="1774.1" y2="453.1" stroke="#000" stroke-width="1.3"/>
<line x1="1814" y1="440.3" x2="1814" y2="453.1" stroke="#000" stroke-width="1.3"/>
<line x1="1853.9" y1="440.3" x2="1853.9" y2="453.1" stroke="#000" stroke-width="1.3"/>
<line x1="1893.8" y1="440.3" x2="1893.8" y2="453.1" stroke="#000" stroke-width="1.3"/>
<line x1="1933.7" y1="440.3" x2="1933.7" y2="453.1" stroke="#000" stroke-width="1.3"/>
<rect x="1641" y="369.5" width="13.4" height="70.8" fill="#000"/>
<rect x="1655" y="332.58" width="12.8" height="107.72" fill="#D5D5D5" stroke="#000" stroke-width="1.2"/>
<rect x="1680.9" y="369.5" width="13.4" height="70.8" fill="#000"/>
<rect x="1694.9" y="387.09" width="12.8" height="53.21" fill="#D5D5D5" stroke="#000" stroke-width="1.2"/>
<rect x="1720.8" y="369.5" width="13.4" height="70.8" fill="#000"/>
<rect x="1734.8" y="416.83" width="12.8" height="23.47" fill="#D5D5D5" stroke="#000" stroke-width="1.2"/>
<rect x="1760.7" y="369.5" width="13.4" height="70.8" fill="#000"/>
<rect x="1774.7" y="371.52" width="12.8" height="68.78" fill="#D5D5D5" stroke="#000" stroke-width="1.2"/>
<rect x="1800.6" y="369.5" width="13.4" height="70.8" fill="#000"/>
<rect x="1814.6" y="358.06" width="12.8" height="82.24" fill="#D5D5D5" stroke="#000" stroke-width="1.2"/>
<rect x="1840.5" y="369.5" width="13.4" height="70.8" fill="#000"/>
<rect x="1854.5" y="412.58" width="12.8" height="27.72" fill="#D5D5D5" stroke="#000" stroke-width="1.2"/>
<rect x="1880.4" y="369.5" width="13.4" height="70.8" fill="#000"/>
<rect x="1894.4" y="420.37" width="12.8" height="19.93" fill="#D5D5D5" stroke="#000" stroke-width="1.2"/>
<rect x="1920.3" y="369.5" width="13.4" height="70.8" fill="#000"/>
<rect x="1934.3" y="394.17" width="12.8" height="46.13" fill="#D5D5D5" stroke="#000" stroke-width="1.2"/>
<path d="M1647.8 371.62V367.38M1644.55 367.38H1651.05M1644.55 371.62H1651.05" fill="none" stroke="#000" stroke-width="1.3"/>
<path d="M1661.2 334.81V329.14M1657.95 329.14H1664.45M1657.95 334.81H1664.45" fill="none" stroke="#000" stroke-width="1.3"/>
<circle cx="1647.8" cy="363.84" r="3.1" class="m"/>
<circle cx="1644.8" cy="367.38" r="3.1" class="m"/>
<circle cx="1647.8" cy="370.92" r="3.1" class="m"/>
<circle cx="1647.8" cy="379.41" r="3.1" class="m"/>
<polygon points="1661.2,330.4 1656.7,322.4 1665.7,322.4" class="m"/>
<polygon points="1658.2,333.94 1653.7,325.94 1662.7,325.94" class="m"/>
<polygon points="1661.2,338.9 1656.7,330.9 1665.7,330.9" class="m"/>
<polygon points="1658.2,343.15 1653.7,335.15 1662.7,335.15" class="m"/>
<path d="M1687.7 374.46V364.54M1684.45 364.54H1690.95M1684.45 374.46H1690.95" fill="none" stroke="#000" stroke-width="1.3"/>
<path d="M1701.1 387.91V385.08M1697.85 385.08H1704.35M1697.85 387.91H1704.35" fill="none" stroke="#000" stroke-width="1.3"/>
<circle cx="1687.7" cy="357.46" r="3.1" class="m"/>
<circle cx="1687.7" cy="369.5" r="3.1" class="m"/>
<circle cx="1684.7" cy="373.04" r="3.1" class="m"/>
<circle cx="1687.7" cy="379.41" r="3.1" class="m"/>
<polygon points="1701.1,389.88 1696.6,381.88 1705.6,381.88" class="m"/>
<polygon points="1698.1,392 1693.6,384 1702.6,384" class="m"/>
<polygon points="1704.1,394.12 1699.6,386.12 1708.6,386.12" class="m"/>
<path d="M1727.6 371.62V367.38M1724.35 367.38H1730.85M1724.35 371.62H1730.85" fill="none" stroke="#000" stroke-width="1.3"/>
<path d="M1741 417.64V414.81M1737.75 414.81H1744.25M1737.75 417.64H1744.25" fill="none" stroke="#000" stroke-width="1.3"/>
<circle cx="1727.6" cy="362.42" r="3.1" class="m"/>
<circle cx="1727.6" cy="367.38" r="3.1" class="m"/>
<circle cx="1727.6" cy="373.04" r="3.1" class="m"/>
<polygon points="1741,418.9 1736.5,410.9 1745.5,410.9" class="m"/>
<polygon points="1738,421.03 1733.5,413.03 1742.5,413.03" class="m"/>
<polygon points="1744,422.44 1739.5,414.44 1748.5,414.44" class="m"/>
<path d="M1767.5 374.46V364.54M1764.25 364.54H1770.75M1764.25 374.46H1770.75" fill="none" stroke="#000" stroke-width="1.3"/>
<path d="M1780.9 374.46V367.38M1777.65 367.38H1784.15M1777.65 374.46H1784.15" fill="none" stroke="#000" stroke-width="1.3"/>
<circle cx="1767.5" cy="355.34" r="3.1" class="m"/>
<circle cx="1767.5" cy="368.08" r="3.1" class="m"/>
<circle cx="1764.5" cy="371.62" r="3.1" class="m"/>
<circle cx="1767.5" cy="376.58" r="3.1" class="m"/>
<polygon points="1780.9,365.8 1776.4,357.8 1785.4,357.8" class="m"/>
<polygon points="1780.9,377.84 1776.4,369.84 1785.4,369.84" class="m"/>
<polygon points="1777.9,381.38 1773.4,373.38 1782.4,373.38" class="m"/>
<polygon points="1783.9,383.5 1779.4,375.5 1788.4,375.5" class="m"/>
<path d="M1807.4 370.92V368.08M1804.15 368.08H1810.65M1804.15 370.92H1810.65" fill="none" stroke="#000" stroke-width="1.3"/>
<path d="M1820.8 360.3V354.63M1817.55 354.63H1824.05M1817.55 360.3H1824.05" fill="none" stroke="#000" stroke-width="1.3"/>
<circle cx="1807.4" cy="365.25" r="3.1" class="m"/>
<circle cx="1804.4" cy="367.38" r="3.1" class="m"/>
<circle cx="1807.4" cy="376.58" r="3.1" class="m"/>
<polygon points="1820.8,357.31 1816.3,349.31 1825.3,349.31" class="m"/>
<polygon points="1817.8,360.14 1813.3,352.14 1822.3,352.14" class="m"/>
<polygon points="1820.8,365.8 1816.3,357.8 1825.3,357.8" class="m"/>
<polygon points="1817.8,369.34 1813.3,361.34 1822.3,361.34" class="m"/>
<path d="M1847.3 373.75V365.25M1844.05 365.25H1850.55M1844.05 373.75H1850.55" fill="none" stroke="#000" stroke-width="1.3"/>
<path d="M1860.7 413.4V410.56M1857.45 410.56H1863.95M1857.45 413.4H1863.95" fill="none" stroke="#000" stroke-width="1.3"/>
<circle cx="1847.3" cy="362.42" r="3.1" class="m"/>
<circle cx="1844.3" cy="363.84" r="3.1" class="m"/>
<circle cx="1847.3" cy="373.04" r="3.1" class="m"/>
<circle cx="1847.3" cy="382.24" r="3.1" class="m"/>
<polygon points="1860.7,413.95 1856.2,405.95 1865.2,405.95" class="m"/>
<polygon points="1857.7,416.78 1853.2,408.78 1862.2,408.78" class="m"/>
<polygon points="1863.7,419.61 1859.2,411.61 1868.2,411.61" class="m"/>
<path d="M1887.2 370.21V368.79M1883.95 368.79H1890.45M1883.95 370.21H1890.45" fill="none" stroke="#000" stroke-width="1.3"/>
<path d="M1900.6 420.48V419.06M1897.35 419.06H1903.85M1897.35 420.48H1903.85" fill="none" stroke="#000" stroke-width="1.3"/>
<circle cx="1887.2" cy="367.38" r="3.1" class="m"/>
<circle cx="1884.2" cy="369.5" r="3.1" class="m"/>
<circle cx="1890.2" cy="370.92" r="3.1" class="m"/>
<polygon points="1900.6,423.15 1896.1,415.15 1905.1,415.15" class="m"/>
<polygon points="1897.6,424.57 1893.1,416.57 1902.1,416.57" class="m"/>
<polygon points="1903.6,425.98 1899.1,417.98 1908.1,417.98" class="m"/>
<path d="M1927.1 370.92V368.08M1923.85 368.08H1930.35M1923.85 370.92H1930.35" fill="none" stroke="#000" stroke-width="1.3"/>
<path d="M1940.5 395.7V391.45M1937.25 391.45H1943.75M1937.25 395.7H1943.75" fill="none" stroke="#000" stroke-width="1.3"/>
<circle cx="1927.1" cy="365.96" r="3.1" class="m"/>
<circle cx="1924.1" cy="366.67" r="3.1" class="m"/>
<circle cx="1927.1" cy="374.46" r="3.1" class="m"/>
<polygon points="1940.5,392.71 1936,384.71 1945,384.71" class="m"/>
<polygon points="1937.5,395.54 1933,387.54 1942,387.54" class="m"/>
<polygon points="1940.5,402.62 1936,394.62 1945,394.62" class="m"/>
<polygon points="1937.5,402.62 1933,394.62 1942,394.62" class="m"/>
<path d="M1648.1 249.7V230.5H1661.1V249.7" fill="none" stroke="#000" stroke-width="1.3"/>
<text x="1629.71" y="221.87" font-size="18.8" font-weight="bold" letter-spacing="2.82" class="st">****</text>
<path d="M1688 307V288H1701V307" fill="none" stroke="#000" stroke-width="1.3"/>
<text x="1675.93" y="279.27" font-size="18.8" font-weight="bold" letter-spacing="2.82" class="st">***</text>
<path d="M1727.9 249.7V230.5H1740.9V249.7" fill="none" stroke="#000" stroke-width="1.3"/>
<text x="1709.51" y="221.87" font-size="18.8" font-weight="bold" letter-spacing="2.82" class="st">****</text>
<path d="M1807.7 307V288H1820.7V307" fill="none" stroke="#000" stroke-width="1.3"/>
<text x="1808.28" y="279.27" font-size="18.8" font-weight="bold" letter-spacing="2.82" class="st">*</text>
<path d="M1847.6 249.7V230.5H1860.6V249.7" fill="none" stroke="#000" stroke-width="1.3"/>
<text x="1829.21" y="221.87" font-size="18.8" font-weight="bold" letter-spacing="2.82" class="st">****</text>
<path d="M1887.5 307V288H1900.5V307" fill="none" stroke="#000" stroke-width="1.3"/>
<text x="1869.11" y="279.27" font-size="18.8" font-weight="bold" letter-spacing="2.82" class="st">****</text>
<path d="M1927.4 249.7V230.5H1940.4V249.7" fill="none" stroke="#000" stroke-width="1.3"/>
<text x="1909.01" y="221.87" font-size="18.8" font-weight="bold" letter-spacing="2.82" class="st">****</text>
<text transform="translate(1662.2 473.8) rotate(-45)" font-size="24" font-weight="bold" text-anchor="end">Gfap</text>
<text transform="translate(1702.1 473.8) rotate(-45)" font-size="24" font-weight="bold" text-anchor="end">C3</text>
<text transform="translate(1742 473.8) rotate(-45)" font-size="24" font-weight="bold" text-anchor="end">Serpina3n</text>
<text transform="translate(1781.9 473.8) rotate(-45)" font-size="24" font-weight="bold" text-anchor="end">Hspb1</text>
<text transform="translate(1821.8 473.8) rotate(-45)" font-size="24" font-weight="bold" text-anchor="end">Cdh20</text>
<text transform="translate(1861.7 473.8) rotate(-45)" font-size="24" font-weight="bold" text-anchor="end">Rorb</text>
<text transform="translate(1901.6 473.8) rotate(-45)" font-size="24" font-weight="bold" text-anchor="end">Cdh4</text>
<text transform="translate(1941.5 473.8) rotate(-45)" font-size="24" font-weight="bold" text-anchor="end">Csmd1</text>
<text transform="translate(1569.1 281) rotate(-90)" font-size="26.5" font-weight="bold" text-anchor="middle">relative mRNA expression [fold]</text>
<text x="1676.4" y="594.7" font-size="26.5" font-weight="bold" text-anchor="start">KD: <tspan font-size="22.5" letter-spacing="1.65" dy="-3.3">****</tspan></text>
<text x="1676.4" y="624.9" font-size="26.5" font-weight="bold" text-anchor="start">KD x Gene: <tspan font-size="22.5" letter-spacing="1.65" dy="-3.3">****</tspan></text>
<line x1="600.4" y1="777.8" x2="600.4" y2="835" stroke="#000" stroke-width="1.3"/>
<line x1="600.4" y1="860.5" x2="600.4" y2="1097.3" stroke="#000" stroke-width="1.3"/>
<line x1="588.4" y1="1096.7" x2="600.4" y2="1096.7" stroke="#000" stroke-width="1.3"/>
<text x="584.4" y="1105.1" font-size="24" font-weight="bold" text-anchor="end">0</text>
<line x1="588.4" y1="1018.1" x2="600.4" y2="1018.1" stroke="#000" stroke-width="1.3"/>
<text x="584.4" y="1026.5" font-size="24" font-weight="bold" text-anchor="end">1</text>
<line x1="588.4" y1="939.5" x2="600.4" y2="939.5" stroke="#000" stroke-width="1.3"/>
<text x="584.4" y="947.9" font-size="24" font-weight="bold" text-anchor="end">2</text>
<text x="584.4" y="869.3" font-size="24" font-weight="bold" text-anchor="end">3</text>
<line x1="588.4" y1="823.4" x2="600.4" y2="823.4" stroke="#000" stroke-width="1.3"/>
<text x="584.4" y="831.8" font-size="24" font-weight="bold" text-anchor="end">5</text>
<line x1="588.4" y1="777.8" x2="600.4" y2="777.8" stroke="#000" stroke-width="1.3"/>
<text x="584.4" y="786.2" font-size="24" font-weight="bold" text-anchor="end">10</text>
<line x1="592.4" y1="828" x2="609.4" y2="844.6" stroke="#000" stroke-width="1.2"/>
<line x1="592.4" y1="851.5" x2="609.4" y2="868.1" stroke="#000" stroke-width="1.2"/>
<line x1="588.4" y1="1096.7" x2="919.7" y2="1096.7" stroke="#000" stroke-width="1.3"/>
<line x1="620.2" y1="1096.7" x2="620.2" y2="1109.5" stroke="#000" stroke-width="1.3"/>
<line x1="660.1" y1="1096.7" x2="660.1" y2="1109.5" stroke="#000" stroke-width="1.3"/>
<line x1="700" y1="1096.7" x2="700" y2="1109.5" stroke="#000" stroke-width="1.3"/>
<line x1="739.9" y1="1096.7" x2="739.9" y2="1109.5" stroke="#000" stroke-width="1.3"/>
<line x1="779.8" y1="1096.7" x2="779.8" y2="1109.5" stroke="#000" stroke-width="1.3"/>
<line x1="819.7" y1="1096.7" x2="819.7" y2="1109.5" stroke="#000" stroke-width="1.3"/>
<line x1="859.6" y1="1096.7" x2="859.6" y2="1109.5" stroke="#000" stroke-width="1.3"/>
<line x1="899.5" y1="1096.7" x2="899.5" y2="1109.5" stroke="#000" stroke-width="1.3"/>
<rect x="606.8" y="1018.1" width="13.4" height="78.6" fill="#000"/>
<rect x="620.8" y="942.46" width="12.8" height="154.24" fill="#F2999F" stroke="#000" stroke-width="1.2"/>
<rect x="646.7" y="1018.1" width="13.4" height="78.6" fill="#000"/>
<rect x="660.7" y="1012.41" width="12.8" height="84.29" fill="#F2999F" stroke="#000" stroke-width="1.2"/>
<rect x="686.6" y="1018.1" width="13.4" height="78.6" fill="#000"/>
<rect x="700.6" y="931.45" width="12.8" height="165.25" fill="#F2999F" stroke="#000" stroke-width="1.2"/>
<rect x="726.5" y="1018.1" width="13.4" height="78.6" fill="#000"/>
<rect x="740.5" y="991.19" width="12.8" height="105.51" fill="#F2999F" stroke="#000" stroke-width="1.2"/>
<rect x="766.4" y="1018.1" width="13.4" height="78.6" fill="#000"/>
<rect x="780.4" y="860.9" width="12.8" height="235.8" fill="#F2999F"/>
<path d="M780.4 860.9V1096.7M793.2 860.9V1096.7" fill="none" stroke="#000" stroke-width="1.2"/>
<rect x="780.4" y="825.22" width="12.8" height="11.18" fill="#F2999F"/>
<path d="M780.4 836.4V825.22H793.2V836.4" fill="none" stroke="#000" stroke-width="1.2"/>
<rect x="806.3" y="1018.1" width="13.4" height="78.6" fill="#000"/>
<rect x="820.3" y="945.6" width="12.8" height="151.1" fill="#F2999F" stroke="#000" stroke-width="1.2"/>
<rect x="846.2" y="1018.1" width="13.4" height="78.6" fill="#000"/>
<rect x="860.2" y="1050.14" width="12.8" height="46.56" fill="#F2999F" stroke="#000" stroke-width="1.2"/>
<rect x="886.1" y="1018.1" width="13.4" height="78.6" fill="#000"/>
<rect x="900.1" y="1046.21" width="12.8" height="50.49" fill="#F2999F" stroke="#000" stroke-width="1.2"/>
<path d="M627 945.79V937.93M623.75 937.93H630.25M623.75 945.79H630.25" fill="none" stroke="#000" stroke-width="1.3"/>
<circle cx="613.6" cy="1018.1" r="3.1" class="m"/>
<circle cx="610.6" cy="1018.1" r="3.1" class="m"/>
<circle cx="616.6" cy="1018.89" r="3.1" class="m"/>
<rect x="624.1" y="928.74" width="5.8" height="5.8" class="m"/>
<rect x="624.1" y="940.53" width="5.8" height="5.8" class="m"/>
<rect x="621.1" y="944.46" width="5.8" height="5.8" class="m"/>
<rect x="624.1" y="948.39" width="5.8" height="5.8" class="m"/>
<path d="M653.5 1021.24V1014.96M650.25 1014.96H656.75M650.25 1021.24H656.75" fill="none" stroke="#000" stroke-width="1.3"/>
<path d="M666.9 1016.53V1007.1M663.65 1007.1H670.15M663.65 1016.53H670.15" fill="none" stroke="#000" stroke-width="1.3"/>
<circle cx="653.5" cy="1010.24" r="3.1" class="m"/>
<circle cx="650.5" cy="1014.17" r="3.1" class="m"/>
<circle cx="653.5" cy="1022.03" r="3.1" class="m"/>
<circle cx="650.5" cy="1025.96" r="3.1" class="m"/>
<rect x="664" y="997.12" width="5.8" height="5.8" class="m"/>
<rect x="664" y="1007.34" width="5.8" height="5.8" class="m"/>
<rect x="664" y="1012.84" width="5.8" height="5.8" class="m"/>
<rect x="661" y="1016.77" width="5.8" height="5.8" class="m"/>
<path d="M693.4 1020.46V1015.74M690.15 1015.74H696.65M690.15 1020.46H696.65" fill="none" stroke="#000" stroke-width="1.3"/>
<path d="M706.8 938.71V922.99M703.55 922.99H710.05M703.55 938.71H710.05" fill="none" stroke="#000" stroke-width="1.3"/>
<circle cx="693.4" cy="1013.38" r="3.1" class="m"/>
<circle cx="690.4" cy="1018.1" r="3.1" class="m"/>
<circle cx="693.4" cy="1023.6" r="3.1" class="m"/>
<rect x="703.9" y="908.3" width="5.8" height="5.8" class="m"/>
<rect x="703.9" y="916.16" width="5.8" height="5.8" class="m"/>
<rect x="703.9" y="938.17" width="5.8" height="5.8" class="m"/>
<rect x="700.9" y="942.1" width="5.8" height="5.8" class="m"/>
<path d="M733.3 1018.89V1017.31M730.05 1017.31H736.55M730.05 1018.89H736.55" fill="none" stroke="#000" stroke-width="1.3"/>
<path d="M746.7 997.66V983.52M743.45 983.52H749.95M743.45 997.66H749.95" fill="none" stroke="#000" stroke-width="1.3"/>
<circle cx="733.3" cy="1016.53" r="3.1" class="m"/>
<circle cx="730.3" cy="1018.1" r="3.1" class="m"/>
<circle cx="736.3" cy="1019.67" r="3.1" class="m"/>
<rect x="743.8" y="976.69" width="5.8" height="5.8" class="m"/>
<rect x="740.8" y="981.4" width="5.8" height="5.8" class="m"/>
<rect x="743.8" y="983.76" width="5.8" height="5.8" class="m"/>
<rect x="743.8" y="1004.98" width="5.8" height="5.8" class="m"/>
<path d="M773.2 1022.03V1014.17M769.95 1014.17H776.45M769.95 1022.03H776.45" fill="none" stroke="#000" stroke-width="1.3"/>
<path d="M786.6 827.96V822.49M783.35 822.49H789.85M783.35 827.96H789.85" fill="none" stroke="#000" stroke-width="1.3"/>
<circle cx="773.2" cy="1010.24" r="3.1" class="m"/>
<circle cx="773.2" cy="1015.74" r="3.1" class="m"/>
<circle cx="773.2" cy="1027.53" r="3.1" class="m"/>
<rect x="783.7" y="815.94" width="5.8" height="5.8" class="m"/>
<rect x="780.7" y="819.59" width="5.8" height="5.8" class="m"/>
<rect x="783.7" y="825.97" width="5.8" height="5.8" class="m"/>
<rect x="783.7" y="831.44" width="5.8" height="5.8" class="m"/>
<path d="M813.1 1021.24V1014.96M809.85 1014.96H816.35M809.85 1021.24H816.35" fill="none" stroke="#000" stroke-width="1.3"/>
<path d="M826.5 947.36V942.64M823.25 942.64H829.75M823.25 947.36H829.75" fill="none" stroke="#000" stroke-width="1.3"/>
<circle cx="813.1" cy="1013.38" r="3.1" class="m"/>
<circle cx="810.1" cy="1016.53" r="3.1" class="m"/>
<circle cx="813.1" cy="1025.96" r="3.1" class="m"/>
<rect x="823.6" y="936.6" width="5.8" height="5.8" class="m"/>
<rect x="820.6" y="939.74" width="5.8" height="5.8" class="m"/>
<rect x="823.6" y="942.1" width="5.8" height="5.8" class="m"/>
<rect x="826.6" y="944.46" width="5.8" height="5.8" class="m"/>
<path d="M853 1025.96V1010.24M849.75 1010.24H856.25M849.75 1025.96H856.25" fill="none" stroke="#000" stroke-width="1.3"/>
<path d="M866.4 1052.68V1046.4M863.15 1046.4H869.65M863.15 1052.68H869.65" fill="none" stroke="#000" stroke-width="1.3"/>
<circle cx="853" cy="1002.38" r="3.1" class="m"/>
<circle cx="853" cy="1018.89" r="3.1" class="m"/>
<circle cx="853" cy="1029.1" r="3.1" class="m"/>
<rect x="863.5" y="1032.49" width="5.8" height="5.8" class="m"/>
<rect x="863.5" y="1046.64" width="5.8" height="5.8" class="m"/>
<rect x="860.5" y="1049" width="5.8" height="5.8" class="m"/>
<rect x="866.5" y="1050.57" width="5.8" height="5.8" class="m"/>
<path d="M906.3 1049.54V1041.68M903.05 1041.68H909.55M903.05 1049.54H909.55" fill="none" stroke="#000" stroke-width="1.3"/>
<circle cx="892.9" cy="1018.1" r="3.1" class="m"/>
<circle cx="889.9" cy="1018.1" r="3.1" class="m"/>
<circle cx="895.9" cy="1018.89" r="3.1" class="m"/>
<rect x="903.4" y="1032.49" width="5.8" height="5.8" class="m"/>
<rect x="903.4" y="1038.78" width="5.8" height="5.8" class="m"/>
<rect x="900.4" y="1041.92" width="5.8" height="5.8" class="m"/>
<rect x="903.4" y="1045.07" width="5.8" height="5.8" class="m"/>
<path d="M613.9 885.4V866.5H626.9V885.4" fill="none" stroke="#000" stroke-width="1.3"/>
<text x="595.51" y="858.57" font-size="18.8" font-weight="bold" letter-spacing="2.82" class="st">****</text>
<path d="M693.7 885.4V866.5H706.7V885.4" fill="none" stroke="#000" stroke-width="1.3"/>
<text x="675.31" y="858.57" font-size="18.8" font-weight="bold" letter-spacing="2.82" class="st">****</text>
<path d="M773.5 799V780H786.5V799" fill="none" stroke="#000" stroke-width="1.3"/>
<text x="755.11" y="772.17" font-size="18.8" font-weight="bold" letter-spacing="2.82" class="st">****</text>
<path d="M813.4 920V907.2H826.4V920" fill="none" stroke="#000" stroke-width="1.3"/>
<text x="795.01" y="898.57" font-size="18.8" font-weight="bold" letter-spacing="2.82" class="st">****</text>
<text transform="translate(628 1130.2) rotate(-45)" font-size="24" font-weight="bold" text-anchor="end">Gfap</text>
<text transform="translate(667.9 1130.2) rotate(-45)" font-size="24" font-weight="bold" text-anchor="end">C3</text>
<text transform="translate(707.8 1130.2) rotate(-45)" font-size="24" font-weight="bold" text-anchor="end">Serpina3n</text>
<text transform="translate(747.7 1130.2) rotate(-45)" font-size="24" font-weight="bold" text-anchor="end">Hspb1</text>
<text transform="translate(787.6 1130.2) rotate(-45)" font-size="24" font-weight="bold" text-anchor="end">Cdh20</text>
<text transform="translate(827.5 1130.2) rotate(-45)" font-size="24" font-weight="bold" text-anchor="end">Rorb</text>
<text transform="translate(867.4 1130.2) rotate(-45)" font-size="24" font-weight="bold" text-anchor="end">Cdh4</text>
<text transform="translate(907.3 1130.2) rotate(-45)" font-size="24" font-weight="bold" text-anchor="end">Csmd1</text>
<text transform="translate(534.9 937.25) rotate(-90)" font-size="26.5" font-weight="bold" text-anchor="middle">relative mRNA expression [fold]</text>
<text x="642.4" y="1249.7" font-size="26.5" font-weight="bold" text-anchor="start">KD: <tspan font-size="22.5" letter-spacing="1.65" dy="-3.3">****</tspan></text>
<text x="642.4" y="1280.3" font-size="26.5" font-weight="bold" text-anchor="start">KD x Gene: <tspan font-size="22.5" letter-spacing="1.65" dy="-3.3">****</tspan></text>
<line x1="1115.6" y1="777.8" x2="1115.6" y2="835" stroke="#000" stroke-width="1.3"/>
<line x1="1115.6" y1="860.5" x2="1115.6" y2="1097.3" stroke="#000" stroke-width="1.3"/>
<line x1="1103.6" y1="1096.7" x2="1115.6" y2="1096.7" stroke="#000" stroke-width="1.3"/>
<text x="1099.6" y="1105.1" font-size="24" font-weight="bold" text-anchor="end">0.0</text>
<line x1="1103.6" y1="1057.4" x2="1115.6" y2="1057.4" stroke="#000" stroke-width="1.3"/>
<text x="1099.6" y="1065.8" font-size="24" font-weight="bold" text-anchor="end">0.5</text>
<line x1="1103.6" y1="1018.1" x2="1115.6" y2="1018.1" stroke="#000" stroke-width="1.3"/>
<text x="1099.6" y="1026.5" font-size="24" font-weight="bold" text-anchor="end">1.0</text>
<line x1="1103.6" y1="978.8" x2="1115.6" y2="978.8" stroke="#000" stroke-width="1.3"/>
<text x="1099.6" y="987.2" font-size="24" font-weight="bold" text-anchor="end">1.5</text>
<line x1="1103.6" y1="939.5" x2="1115.6" y2="939.5" stroke="#000" stroke-width="1.3"/>
<text x="1099.6" y="947.9" font-size="24" font-weight="bold" text-anchor="end">2.0</text>
<line x1="1103.6" y1="900.2" x2="1115.6" y2="900.2" stroke="#000" stroke-width="1.3"/>
<text x="1099.6" y="908.6" font-size="24" font-weight="bold" text-anchor="end">2.5</text>
<text x="1099.6" y="869.3" font-size="24" font-weight="bold" text-anchor="end">3.0</text>
<line x1="1103.6" y1="823.4" x2="1115.6" y2="823.4" stroke="#000" stroke-width="1.3"/>
<text x="1099.6" y="831.8" font-size="24" font-weight="bold" text-anchor="end">5</text>
<line x1="1103.6" y1="777.8" x2="1115.6" y2="777.8" stroke="#000" stroke-width="1.3"/>
<text x="1099.6" y="786.2" font-size="24" font-weight="bold" text-anchor="end">10</text>
<line x1="1107.6" y1="828" x2="1124.6" y2="844.6" stroke="#000" stroke-width="1.2"/>
<line x1="1107.6" y1="851.5" x2="1124.6" y2="868.1" stroke="#000" stroke-width="1.2"/>
<line x1="1103.6" y1="1096.7" x2="1434.9" y2="1096.7" stroke="#000" stroke-width="1.3"/>
<line x1="1135.4" y1="1096.7" x2="1135.4" y2="1109.5" stroke="#000" stroke-width="1.3"/>
<line x1="1175.3" y1="1096.7" x2="1175.3" y2="1109.5" stroke="#000" stroke-width="1.3"/>
<line x1="1215.2" y1="1096.7" x2="1215.2" y2="1109.5" stroke="#000" stroke-width="1.3"/>
<line x1="1255.1" y1="1096.7" x2="1255.1" y2="1109.5" stroke="#000" stroke-width="1.3"/>
<line x1="1295" y1="1096.7" x2="1295" y2="1109.5" stroke="#000" stroke-width="1.3"/>
<line x1="1334.9" y1="1096.7" x2="1334.9" y2="1109.5" stroke="#000" stroke-width="1.3"/>
<line x1="1374.8" y1="1096.7" x2="1374.8" y2="1109.5" stroke="#000" stroke-width="1.3"/>
<line x1="1414.7" y1="1096.7" x2="1414.7" y2="1109.5" stroke="#000" stroke-width="1.3"/>
<rect x="1122" y="1018.1" width="13.4" height="78.6" fill="#000"/>
<rect x="1136" y="1040.71" width="12.8" height="55.99" fill="#F0BE7E" stroke="#000" stroke-width="1.2"/>
<rect x="1161.9" y="1018.1" width="13.4" height="78.6" fill="#000"/>
<rect x="1175.9" y="1062.72" width="12.8" height="33.98" fill="#F0BE7E" stroke="#000" stroke-width="1.2"/>
<rect x="1201.8" y="1018.1" width="13.4" height="78.6" fill="#000"/>
<rect x="1215.8" y="1045.42" width="12.8" height="51.28" fill="#F0BE7E" stroke="#000" stroke-width="1.2"/>
<rect x="1241.7" y="1018.1" width="13.4" height="78.6" fill="#000"/>
<rect x="1255.7" y="1047" width="12.8" height="49.7" fill="#F0BE7E" stroke="#000" stroke-width="1.2"/>
<rect x="1281.6" y="1018.1" width="13.4" height="78.6" fill="#000"/>
<rect x="1295.6" y="860.9" width="12.8" height="235.8" fill="#F0BE7E"/>
<path d="M1295.6 860.9V1096.7M1308.4 860.9V1096.7" fill="none" stroke="#000" stroke-width="1.2"/>
<rect x="1295.6" y="810.63" width="12.8" height="25.77" fill="#F0BE7E"/>
<path d="M1295.6 836.4V810.63H1308.4V836.4" fill="none" stroke="#000" stroke-width="1.2"/>
<rect x="1321.5" y="1018.1" width="13.4" height="78.6" fill="#000"/>
<rect x="1335.5" y="1006.91" width="12.8" height="89.79" fill="#F0BE7E" stroke="#000" stroke-width="1.2"/>
<rect x="1361.4" y="1018.1" width="13.4" height="78.6" fill="#000"/>
<rect x="1375.4" y="1070.58" width="12.8" height="26.12" fill="#F0BE7E" stroke="#000" stroke-width="1.2"/>
<rect x="1401.3" y="1018.1" width="13.4" height="78.6" fill="#000"/>
<rect x="1415.3" y="1062.72" width="12.8" height="33.98" fill="#F0BE7E" stroke="#000" stroke-width="1.2"/>
<path d="M1142.2 1042.47V1037.75M1138.95 1037.75H1145.45M1138.95 1042.47H1145.45" fill="none" stroke="#000" stroke-width="1.3"/>
<circle cx="1128.8" cy="1018.1" r="3.1" class="m"/>
<circle cx="1125.8" cy="1018.89" r="3.1" class="m"/>
<circle cx="1131.8" cy="1019.67" r="3.1" class="m"/>
<polygon points="1142.2,1029.02 1137.7,1037.02 1146.7,1037.02" class="m"/>
<polygon points="1142.2,1035.31 1137.7,1043.31 1146.7,1043.31" class="m"/>
<polygon points="1139.2,1040.81 1134.7,1048.81 1143.7,1048.81" class="m"/>
<polygon points="1142.2,1043.17 1137.7,1051.17 1146.7,1051.17" class="m"/>
<path d="M1168.7 1021.24V1014.96M1165.45 1014.96H1171.95M1165.45 1021.24H1171.95" fill="none" stroke="#000" stroke-width="1.3"/>
<path d="M1182.1 1063.69V1060.54M1178.85 1060.54H1185.35M1178.85 1063.69H1185.35" fill="none" stroke="#000" stroke-width="1.3"/>
<circle cx="1168.7" cy="1010.24" r="3.1" class="m"/>
<circle cx="1165.7" cy="1014.17" r="3.1" class="m"/>
<circle cx="1168.7" cy="1027.53" r="3.1" class="m"/>
<polygon points="1182.1,1054.96 1177.6,1062.96 1186.6,1062.96" class="m"/>
<polygon points="1179.1,1056.53 1174.6,1064.53 1183.6,1064.53" class="m"/>
<polygon points="1185.1,1060.46 1180.6,1068.46 1189.6,1068.46" class="m"/>
<polygon points="1182.1,1062.03 1177.6,1070.03 1186.6,1070.03" class="m"/>
<path d="M1208.6 1020.46V1015.74M1205.35 1015.74H1211.85M1205.35 1020.46H1211.85" fill="none" stroke="#000" stroke-width="1.3"/>
<path d="M1222 1047.18V1042.47M1218.75 1042.47H1225.25M1218.75 1047.18H1225.25" fill="none" stroke="#000" stroke-width="1.3"/>
<circle cx="1208.6" cy="1012.6" r="3.1" class="m"/>
<circle cx="1205.6" cy="1016.53" r="3.1" class="m"/>
<circle cx="1208.6" cy="1022.03" r="3.1" class="m"/>
<polygon points="1222,1035.31 1217.5,1043.31 1226.5,1043.31" class="m"/>
<polygon points="1219,1040.81 1214.5,1048.81 1223.5,1048.81" class="m"/>
<polygon points="1222,1044.74 1217.5,1052.74 1226.5,1052.74" class="m"/>
<path d="M1248.5 1018.89V1017.31M1245.25 1017.31H1251.75M1245.25 1018.89H1251.75" fill="none" stroke="#000" stroke-width="1.3"/>
<path d="M1261.9 1048.75V1044.04M1258.65 1044.04H1265.15M1258.65 1048.75H1265.15" fill="none" stroke="#000" stroke-width="1.3"/>
<circle cx="1248.5" cy="1016.53" r="3.1" class="m"/>
<circle cx="1245.5" cy="1018.1" r="3.1" class="m"/>
<circle cx="1251.5" cy="1020.46" r="3.1" class="m"/>
<polygon points="1261.9,1036.88 1257.4,1044.88 1266.4,1044.88" class="m"/>
<polygon points="1258.9,1040.81 1254.4,1048.81 1263.4,1048.81" class="m"/>
<polygon points="1261.9,1044.74 1257.4,1052.74 1266.4,1052.74" class="m"/>
<polygon points="1258.9,1047.1 1254.4,1055.1 1263.4,1055.1" class="m"/>
<path d="M1288.4 1022.03V1014.17M1285.15 1014.17H1291.65M1285.15 1022.03H1291.65" fill="none" stroke="#000" stroke-width="1.3"/>
<path d="M1301.8 813.37V807.9M1298.55 807.9H1305.05M1298.55 813.37H1305.05" fill="none" stroke="#000" stroke-width="1.3"/>
<circle cx="1288.4" cy="1010.24" r="3.1" class="m"/>
<circle cx="1288.4" cy="1015.74" r="3.1" class="m"/>
<circle cx="1288.4" cy="1028.32" r="3.1" class="m"/>
<polygon points="1301.8,802.18 1297.3,810.18 1306.3,810.18" class="m"/>
<polygon points="1298.8,804.92 1294.3,812.92 1303.3,812.92" class="m"/>
<polygon points="1304.8,807.66 1300.3,815.66 1309.3,815.66" class="m"/>
<path d="M1328.3 1021.24V1014.96M1325.05 1014.96H1331.55M1325.05 1021.24H1331.55" fill="none" stroke="#000" stroke-width="1.3"/>
<path d="M1341.7 1010.24V1002.38M1338.45 1002.38H1344.95M1338.45 1010.24H1344.95" fill="none" stroke="#000" stroke-width="1.3"/>
<circle cx="1328.3" cy="1012.6" r="3.1" class="m"/>
<circle cx="1325.3" cy="1016.53" r="3.1" class="m"/>
<circle cx="1328.3" cy="1024.39" r="3.1" class="m"/>
<polygon points="1341.7,993.65 1337.2,1001.65 1346.2,1001.65" class="m"/>
<polygon points="1338.7,997.58 1334.2,1005.58 1343.2,1005.58" class="m"/>
<polygon points="1341.7,1005.44 1337.2,1013.44 1346.2,1013.44" class="m"/>
<polygon points="1341.7,1011.73 1337.2,1019.73 1346.2,1019.73" class="m"/>
<path d="M1368.2 1025.96V1010.24M1364.95 1010.24H1371.45M1364.95 1025.96H1371.45" fill="none" stroke="#000" stroke-width="1.3"/>
<path d="M1381.6 1071.55V1068.4M1378.35 1068.4H1384.85M1378.35 1071.55H1384.85" fill="none" stroke="#000" stroke-width="1.3"/>
<circle cx="1368.2" cy="1002.38" r="3.1" class="m"/>
<circle cx="1368.2" cy="1019.67" r="3.1" class="m"/>
<circle cx="1368.2" cy="1029.89" r="3.1" class="m"/>
<polygon points="1381.6,1062.03 1377.1,1070.03 1386.1,1070.03" class="m"/>
<polygon points="1378.6,1065.18 1374.1,1073.18 1383.1,1073.18" class="m"/>
<polygon points="1381.6,1068.32 1377.1,1076.32 1386.1,1076.32" class="m"/>
<path d="M1421.5 1064.47V1059.76M1418.25 1059.76H1424.75M1418.25 1064.47H1424.75" fill="none" stroke="#000" stroke-width="1.3"/>
<circle cx="1408.1" cy="1016.53" r="3.1" class="m"/>
<circle cx="1405.1" cy="1018.1" r="3.1" class="m"/>
<circle cx="1411.1" cy="1018.89" r="3.1" class="m"/>
<polygon points="1421.5,1052.6 1417,1060.6 1426,1060.6" class="m"/>
<polygon points="1418.5,1056.53 1414,1064.53 1423,1064.53" class="m"/>
<polygon points="1421.5,1058.89 1417,1066.89 1426,1066.89" class="m"/>
<polygon points="1424.5,1062.03 1420,1070.03 1429,1070.03" class="m"/>
<path d="M1129.1 944.6V926.6H1142.1V944.6" fill="none" stroke="#000" stroke-width="1.3"/>
<text x="1123.36" y="917.87" font-size="18.8" font-weight="bold" letter-spacing="2.82" class="st">**</text>
<path d="M1169 786.6V768H1182V786.6" fill="none" stroke="#000" stroke-width="1.3"/>
<text x="1150.61" y="759.37" font-size="18.8" font-weight="bold" letter-spacing="2.82" class="st">****</text>
<path d="M1208.9 944.6V926.6H1221.9V944.6" fill="none" stroke="#000" stroke-width="1.3"/>
<text x="1203.16" y="917.87" font-size="18.8" font-weight="bold" letter-spacing="2.82" class="st">**</text>
<path d="M1248.8 887.4V868.5H1261.8V887.4" fill="none" stroke="#000" stroke-width="1.3"/>
<text x="1236.73" y="860.67" font-size="18.8" font-weight="bold" letter-spacing="2.82" class="st">***</text>
<path d="M1288.7 786.6V768H1301.7V786.6" fill="none" stroke="#000" stroke-width="1.3"/>
<text x="1270.31" y="759.37" font-size="18.8" font-weight="bold" letter-spacing="2.82" class="st">****</text>
<path d="M1368.5 786.6V768H1381.5V786.6" fill="none" stroke="#000" stroke-width="1.3"/>
<text x="1350.11" y="759.37" font-size="18.8" font-weight="bold" letter-spacing="2.82" class="st">****</text>
<path d="M1408.4 944.6V926.6H1421.4V944.6" fill="none" stroke="#000" stroke-width="1.3"/>
<text x="1390.01" y="917.87" font-size="18.8" font-weight="bold" letter-spacing="2.82" class="st">****</text>
<text transform="translate(1143.2 1130.2) rotate(-45)" font-size="24" font-weight="bold" text-anchor="end">Gfap</text>
<text transform="translate(1183.1 1130.2) rotate(-45)" font-size="24" font-weight="bold" text-anchor="end">C3</text>
<text transform="translate(1223 1130.2) rotate(-45)" font-size="24" font-weight="bold" text-anchor="end">Serpina3n</text>
<text transform="translate(1262.9 1130.2) rotate(-45)" font-size="24" font-weight="bold" text-anchor="end">Hspb1</text>
<text transform="translate(1302.8 1130.2) rotate(-45)" font-size="24" font-weight="bold" text-anchor="end">Cdh20</text>
<text transform="translate(1342.7 1130.2) rotate(-45)" font-size="24" font-weight="bold" text-anchor="end">Rorb</text>
<text transform="translate(1382.6 1130.2) rotate(-45)" font-size="24" font-weight="bold" text-anchor="end">Cdh4</text>
<text transform="translate(1422.5 1130.2) rotate(-45)" font-size="24" font-weight="bold" text-anchor="end">Csmd1</text>
<text transform="translate(1050.1 937.25) rotate(-90)" font-size="26.5" font-weight="bold" text-anchor="middle">relative mRNA expression [fold]</text>
<text x="1156.7" y="1249.7" font-size="26.5" font-weight="bold" text-anchor="start">KD: <tspan font-size="22.5" letter-spacing="1.65" dy="-3.3">****</tspan></text>
<text x="1156.7" y="1280.3" font-size="26.5" font-weight="bold" text-anchor="start">KD x Gene: <tspan font-size="22.5" letter-spacing="1.65" dy="-3.3">****</tspan></text>
<line x1="1634.7" y1="777.8" x2="1634.7" y2="835" stroke="#000" stroke-width="1.3"/>
<line x1="1634.7" y1="860.5" x2="1634.7" y2="1097.3" stroke="#000" stroke-width="1.3"/>
<line x1="1622.7" y1="1096.7" x2="1634.7" y2="1096.7" stroke="#000" stroke-width="1.3"/>
<text x="1618.7" y="1105.1" font-size="24" font-weight="bold" text-anchor="end">0</text>
<line x1="1622.7" y1="1018.1" x2="1634.7" y2="1018.1" stroke="#000" stroke-width="1.3"/>
<text x="1618.7" y="1026.5" font-size="24" font-weight="bold" text-anchor="end">1</text>
<line x1="1622.7" y1="939.5" x2="1634.7" y2="939.5" stroke="#000" stroke-width="1.3"/>
<text x="1618.7" y="947.9" font-size="24" font-weight="bold" text-anchor="end">2</text>
<text x="1618.7" y="869.3" font-size="24" font-weight="bold" text-anchor="end">3</text>
<line x1="1622.7" y1="823.4" x2="1634.7" y2="823.4" stroke="#000" stroke-width="1.3"/>
<text x="1618.7" y="831.8" font-size="24" font-weight="bold" text-anchor="end">5</text>
<line x1="1622.7" y1="777.8" x2="1634.7" y2="777.8" stroke="#000" stroke-width="1.3"/>
<text x="1618.7" y="786.2" font-size="24" font-weight="bold" text-anchor="end">10</text>
<line x1="1626.7" y1="828" x2="1643.7" y2="844.6" stroke="#000" stroke-width="1.2"/>
<line x1="1626.7" y1="851.5" x2="1643.7" y2="868.1" stroke="#000" stroke-width="1.2"/>
<line x1="1622.7" y1="1096.7" x2="1954" y2="1096.7" stroke="#000" stroke-width="1.3"/>
<line x1="1654.5" y1="1096.7" x2="1654.5" y2="1109.5" stroke="#000" stroke-width="1.3"/>
<line x1="1694.4" y1="1096.7" x2="1694.4" y2="1109.5" stroke="#000" stroke-width="1.3"/>
<line x1="1734.3" y1="1096.7" x2="1734.3" y2="1109.5" stroke="#000" stroke-width="1.3"/>
<line x1="1774.2" y1="1096.7" x2="1774.2" y2="1109.5" stroke="#000" stroke-width="1.3"/>
<line x1="1814.1" y1="1096.7" x2="1814.1" y2="1109.5" stroke="#000" stroke-width="1.3"/>
<line x1="1854" y1="1096.7" x2="1854" y2="1109.5" stroke="#000" stroke-width="1.3"/>
<line x1="1893.9" y1="1096.7" x2="1893.9" y2="1109.5" stroke="#000" stroke-width="1.3"/>
<line x1="1933.8" y1="1096.7" x2="1933.8" y2="1109.5" stroke="#000" stroke-width="1.3"/>
<rect x="1641.1" y="1018.1" width="13.4" height="78.6" fill="#000"/>
<rect x="1655.1" y="918.88" width="12.8" height="177.82" fill="#D5D5D5" stroke="#000" stroke-width="1.2"/>
<rect x="1681" y="1018.1" width="13.4" height="78.6" fill="#000"/>
<rect x="1695" y="1020.27" width="12.8" height="76.43" fill="#D5D5D5" stroke="#000" stroke-width="1.2"/>
<rect x="1720.9" y="1018.1" width="13.4" height="78.6" fill="#000"/>
<rect x="1734.9" y="1052.5" width="12.8" height="44.2" fill="#D5D5D5" stroke="#000" stroke-width="1.2"/>
<rect x="1760.8" y="1018.1" width="13.4" height="78.6" fill="#000"/>
<rect x="1774.8" y="1020.27" width="12.8" height="76.43" fill="#D5D5D5" stroke="#000" stroke-width="1.2"/>
<rect x="1800.7" y="1018.1" width="13.4" height="78.6" fill="#000"/>
<rect x="1814.7" y="860.9" width="12.8" height="235.8" fill="#D5D5D5"/>
<path d="M1814.7 860.9V1096.7M1827.5 860.9V1096.7" fill="none" stroke="#000" stroke-width="1.2"/>
<rect x="1814.7" y="827.32" width="12.8" height="9.08" fill="#D5D5D5"/>
<path d="M1814.7 836.4V827.32H1827.5V836.4" fill="none" stroke="#000" stroke-width="1.2"/>
<rect x="1840.6" y="1018.1" width="13.4" height="78.6" fill="#000"/>
<rect x="1854.6" y="1061.14" width="12.8" height="35.56" fill="#D5D5D5" stroke="#000" stroke-width="1.2"/>
<rect x="1880.5" y="1018.1" width="13.4" height="78.6" fill="#000"/>
<rect x="1894.5" y="1067.43" width="12.8" height="29.27" fill="#D5D5D5" stroke="#000" stroke-width="1.2"/>
<rect x="1920.4" y="1018.1" width="13.4" height="78.6" fill="#000"/>
<rect x="1934.4" y="1026.56" width="12.8" height="70.14" fill="#D5D5D5" stroke="#000" stroke-width="1.2"/>
<path d="M1661.3 926.14V910.42M1658.05 910.42H1664.55M1658.05 926.14H1664.55" fill="none" stroke="#000" stroke-width="1.3"/>
<circle cx="1647.9" cy="1018.1" r="3.1" class="m"/>
<circle cx="1644.9" cy="1018.89" r="3.1" class="m"/>
<polygon points="1661.3,905 1656.8,897 1665.8,897" class="m"/>
<polygon points="1661.3,912.86 1656.8,904.86 1665.8,904.86" class="m"/>
<polygon points="1661.3,920.72 1656.8,912.72 1665.8,912.72" class="m"/>
<polygon points="1661.3,944.3 1656.8,936.3 1665.8,936.3" class="m"/>
<path d="M1687.8 1021.24V1014.96M1684.55 1014.96H1691.05M1684.55 1021.24H1691.05" fill="none" stroke="#000" stroke-width="1.3"/>
<path d="M1701.2 1022.82V1016.53M1697.95 1016.53H1704.45M1697.95 1022.82H1704.45" fill="none" stroke="#000" stroke-width="1.3"/>
<circle cx="1687.8" cy="1010.24" r="3.1" class="m"/>
<circle cx="1687.8" cy="1015.74" r="3.1" class="m"/>
<circle cx="1687.8" cy="1027.53" r="3.1" class="m"/>
<polygon points="1701.2,1017.4 1696.7,1009.4 1705.7,1009.4" class="m"/>
<polygon points="1698.2,1022.9 1693.7,1014.9 1702.7,1014.9" class="m"/>
<polygon points="1701.2,1026.83 1696.7,1018.83 1705.7,1018.83" class="m"/>
<polygon points="1701.2,1033.12 1696.7,1025.12 1705.7,1025.12" class="m"/>
<path d="M1727.7 1020.46V1015.74M1724.45 1015.74H1730.95M1724.45 1020.46H1730.95" fill="none" stroke="#000" stroke-width="1.3"/>
<path d="M1741.1 1054.26V1049.54M1737.85 1049.54H1744.35M1737.85 1054.26H1744.35" fill="none" stroke="#000" stroke-width="1.3"/>
<circle cx="1727.7" cy="1012.6" r="3.1" class="m"/>
<circle cx="1724.7" cy="1016.53" r="3.1" class="m"/>
<circle cx="1727.7" cy="1022.82" r="3.1" class="m"/>
<polygon points="1741.1,1052.77 1736.6,1044.77 1745.6,1044.77" class="m"/>
<polygon points="1738.1,1056.7 1733.6,1048.7 1742.6,1048.7" class="m"/>
<polygon points="1741.1,1059.06 1736.6,1051.06 1745.6,1051.06" class="m"/>
<path d="M1767.6 1018.89V1017.31M1764.35 1017.31H1770.85M1764.35 1018.89H1770.85" fill="none" stroke="#000" stroke-width="1.3"/>
<path d="M1781 1022.03V1017.31M1777.75 1017.31H1784.25M1777.75 1022.03H1784.25" fill="none" stroke="#000" stroke-width="1.3"/>
<circle cx="1767.6" cy="1016.53" r="3.1" class="m"/>
<circle cx="1764.6" cy="1018.1" r="3.1" class="m"/>
<circle cx="1770.6" cy="1021.24" r="3.1" class="m"/>
<polygon points="1781,1017.4 1776.5,1009.4 1785.5,1009.4" class="m"/>
<polygon points="1778,1020.54 1773.5,1012.54 1782.5,1012.54" class="m"/>
<polygon points="1781,1024.47 1776.5,1016.47 1785.5,1016.47" class="m"/>
<polygon points="1778,1026.83 1773.5,1018.83 1782.5,1018.83" class="m"/>
<path d="M1807.5 1022.03V1014.17M1804.25 1014.17H1810.75M1804.25 1022.03H1810.75" fill="none" stroke="#000" stroke-width="1.3"/>
<path d="M1820.9 828.23V826.41M1817.65 826.41H1824.15M1817.65 828.23H1824.15" fill="none" stroke="#000" stroke-width="1.3"/>
<circle cx="1807.5" cy="1010.24" r="3.1" class="m"/>
<circle cx="1807.5" cy="1015.74" r="3.1" class="m"/>
<circle cx="1807.5" cy="1028.32" r="3.1" class="m"/>
<polygon points="1820.9,829.11 1816.4,821.11 1825.4,821.11" class="m"/>
<polygon points="1817.9,831.85 1813.4,823.85 1822.4,823.85" class="m"/>
<path d="M1847.4 1021.24V1014.96M1844.15 1014.96H1850.65M1844.15 1021.24H1850.65" fill="none" stroke="#000" stroke-width="1.3"/>
<path d="M1860.8 1062.12V1058.97M1857.55 1058.97H1864.05M1857.55 1062.12H1864.05" fill="none" stroke="#000" stroke-width="1.3"/>
<circle cx="1847.4" cy="1012.6" r="3.1" class="m"/>
<circle cx="1844.4" cy="1015.74" r="3.1" class="m"/>
<circle cx="1847.4" cy="1025.17" r="3.1" class="m"/>
<polygon points="1860.8,1062.2 1856.3,1054.2 1865.3,1054.2" class="m"/>
<polygon points="1857.8,1064.56 1853.3,1056.56 1862.3,1056.56" class="m"/>
<polygon points="1863.8,1066.13 1859.3,1058.13 1868.3,1058.13" class="m"/>
<path d="M1887.3 1025.96V1010.24M1884.05 1010.24H1890.55M1884.05 1025.96H1890.55" fill="none" stroke="#000" stroke-width="1.3"/>
<path d="M1900.7 1068.4V1065.26M1897.45 1065.26H1903.95M1897.45 1068.4H1903.95" fill="none" stroke="#000" stroke-width="1.3"/>
<circle cx="1887.3" cy="1002.38" r="3.1" class="m"/>
<circle cx="1887.3" cy="1019.67" r="3.1" class="m"/>
<circle cx="1887.3" cy="1029.89" r="3.1" class="m"/>
<polygon points="1900.7,1068.49 1896.2,1060.49 1905.2,1060.49" class="m"/>
<polygon points="1897.7,1071.63 1893.2,1063.63 1902.2,1063.63" class="m"/>
<polygon points="1903.7,1073.99 1899.2,1065.99 1908.2,1065.99" class="m"/>
<path d="M1940.6 1029.89V1022.03M1937.35 1022.03H1943.85M1937.35 1029.89H1943.85" fill="none" stroke="#000" stroke-width="1.3"/>
<circle cx="1927.2" cy="1016.53" r="3.1" class="m"/>
<circle cx="1924.2" cy="1018.1" r="3.1" class="m"/>
<circle cx="1930.2" cy="1018.89" r="3.1" class="m"/>
<polygon points="1940.6,1021.33 1936.1,1013.33 1945.1,1013.33" class="m"/>
<polygon points="1940.6,1030.76 1936.1,1022.76 1945.1,1022.76" class="m"/>
<polygon points="1937.6,1034.69 1933.1,1026.69 1942.1,1026.69" class="m"/>
<polygon points="1940.6,1042.55 1936.1,1034.55 1945.1,1034.55" class="m"/>
<path d="M1648.2 804.6V786H1661.2V804.6" fill="none" stroke="#000" stroke-width="1.3"/>
<text x="1629.81" y="777.37" font-size="18.8" font-weight="bold" letter-spacing="2.82" class="st">****</text>
<path d="M1728 804.6V786H1741V804.6" fill="none" stroke="#000" stroke-width="1.3"/>
<text x="1709.61" y="777.37" font-size="18.8" font-weight="bold" letter-spacing="2.82" class="st">****</text>
<path d="M1807.8 804.6V786H1820.8V804.6" fill="none" stroke="#000" stroke-width="1.3"/>
<text x="1789.41" y="777.37" font-size="18.8" font-weight="bold" letter-spacing="2.82" class="st">****</text>
<path d="M1847.7 940V922H1860.7V940" fill="none" stroke="#000" stroke-width="1.3"/>
<text x="1829.31" y="913.27" font-size="18.8" font-weight="bold" letter-spacing="2.82" class="st">****</text>
<path d="M1887.6 804.6V786H1900.6V804.6" fill="none" stroke="#000" stroke-width="1.3"/>
<text x="1869.21" y="777.37" font-size="18.8" font-weight="bold" letter-spacing="2.82" class="st">****</text>
<text transform="translate(1662.3 1130.2) rotate(-45)" font-size="24" font-weight="bold" text-anchor="end">Gfap</text>
<text transform="translate(1702.2 1130.2) rotate(-45)" font-size="24" font-weight="bold" text-anchor="end">C3</text>
<text transform="translate(1742.1 1130.2) rotate(-45)" font-size="24" font-weight="bold" text-anchor="end">Serpina3n</text>
<text transform="translate(1782 1130.2) rotate(-45)" font-size="24" font-weight="bold" text-anchor="end">Hspb1</text>
<text transform="translate(1821.9 1130.2) rotate(-45)" font-size="24" font-weight="bold" text-anchor="end">Cdh20</text>
<text transform="translate(1861.8 1130.2) rotate(-45)" font-size="24" font-weight="bold" text-anchor="end">Rorb</text>
<text transform="translate(1901.7 1130.2) rotate(-45)" font-size="24" font-weight="bold" text-anchor="end">Cdh4</text>
<text transform="translate(1941.6 1130.2) rotate(-45)" font-size="24" font-weight="bold" text-anchor="end">Csmd1</text>
<text transform="translate(1569.2 937.25) rotate(-90)" font-size="26.5" font-weight="bold" text-anchor="middle">relative mRNA expression [fold]</text>
<text x="1676.4" y="1249.7" font-size="26.5" font-weight="bold" text-anchor="start">KD: <tspan font-size="22.5" letter-spacing="1.65" dy="-3.3">****</tspan></text>
<text x="1676.4" y="1280.3" font-size="26.5" font-weight="bold" text-anchor="start">KD x Gene: <tspan font-size="22.5" letter-spacing="1.65" dy="-3.3">****</tspan></text>
<line x1="600.5" y1="1447.3" x2="600.5" y2="1766.5" stroke="#000" stroke-width="1.3"/>
<line x1="588.5" y1="1765.9" x2="600.5" y2="1765.9" stroke="#000" stroke-width="1.3"/>
<text x="584.5" y="1774.3" font-size="24" font-weight="bold" text-anchor="end">0.0</text>
<line x1="588.5" y1="1730.5" x2="600.5" y2="1730.5" stroke="#000" stroke-width="1.3"/>
<text x="584.5" y="1738.9" font-size="24" font-weight="bold" text-anchor="end">0.5</text>
<line x1="588.5" y1="1695.1" x2="600.5" y2="1695.1" stroke="#000" stroke-width="1.3"/>
<text x="584.5" y="1703.5" font-size="24" font-weight="bold" text-anchor="end">1.0</text>
<line x1="588.5" y1="1659.7" x2="600.5" y2="1659.7" stroke="#000" stroke-width="1.3"/>
<text x="584.5" y="1668.1" font-size="24" font-weight="bold" text-anchor="end">1.5</text>
<line x1="588.5" y1="1624.3" x2="600.5" y2="1624.3" stroke="#000" stroke-width="1.3"/>
<text x="584.5" y="1632.7" font-size="24" font-weight="bold" text-anchor="end">2.0</text>
<line x1="588.5" y1="1588.9" x2="600.5" y2="1588.9" stroke="#000" stroke-width="1.3"/>
<text x="584.5" y="1597.3" font-size="24" font-weight="bold" text-anchor="end">2.5</text>
<line x1="588.5" y1="1553.5" x2="600.5" y2="1553.5" stroke="#000" stroke-width="1.3"/>
<text x="584.5" y="1561.9" font-size="24" font-weight="bold" text-anchor="end">3.0</text>
<line x1="588.5" y1="1518.1" x2="600.5" y2="1518.1" stroke="#000" stroke-width="1.3"/>
<text x="584.5" y="1526.5" font-size="24" font-weight="bold" text-anchor="end">3.5</text>
<line x1="588.5" y1="1482.7" x2="600.5" y2="1482.7" stroke="#000" stroke-width="1.3"/>
<text x="584.5" y="1491.1" font-size="24" font-weight="bold" text-anchor="end">4.0</text>
<line x1="588.5" y1="1447.3" x2="600.5" y2="1447.3" stroke="#000" stroke-width="1.3"/>
<text x="584.5" y="1455.7" font-size="24" font-weight="bold" text-anchor="end">4.5</text>
<line x1="588.5" y1="1765.9" x2="919.8" y2="1765.9" stroke="#000" stroke-width="1.3"/>
<line x1="620.3" y1="1765.9" x2="620.3" y2="1778.7" stroke="#000" stroke-width="1.3"/>
<line x1="660.2" y1="1765.9" x2="660.2" y2="1778.7" stroke="#000" stroke-width="1.3"/>
<line x1="700.1" y1="1765.9" x2="700.1" y2="1778.7" stroke="#000" stroke-width="1.3"/>
<line x1="740" y1="1765.9" x2="740" y2="1778.7" stroke="#000" stroke-width="1.3"/>
<line x1="779.9" y1="1765.9" x2="779.9" y2="1778.7" stroke="#000" stroke-width="1.3"/>
<line x1="819.8" y1="1765.9" x2="819.8" y2="1778.7" stroke="#000" stroke-width="1.3"/>
<line x1="859.7" y1="1765.9" x2="859.7" y2="1778.7" stroke="#000" stroke-width="1.3"/>
<line x1="899.6" y1="1765.9" x2="899.6" y2="1778.7" stroke="#000" stroke-width="1.3"/>
<rect x="606.9" y="1695.1" width="13.4" height="70.8" fill="#000"/>
<rect x="620.9" y="1664.55" width="12.8" height="101.35" fill="#F2999F" stroke="#000" stroke-width="1.2"/>
<rect x="646.8" y="1695.1" width="13.4" height="70.8" fill="#000"/>
<rect x="660.8" y="1687.2" width="12.8" height="78.7" fill="#F2999F" stroke="#000" stroke-width="1.2"/>
<rect x="686.7" y="1695.1" width="13.4" height="70.8" fill="#000"/>
<rect x="700.7" y="1673.04" width="12.8" height="92.86" fill="#F2999F" stroke="#000" stroke-width="1.2"/>
<rect x="726.6" y="1695.1" width="13.4" height="70.8" fill="#000"/>
<rect x="740.6" y="1688.62" width="12.8" height="77.28" fill="#F2999F" stroke="#000" stroke-width="1.2"/>
<rect x="766.5" y="1695.1" width="13.4" height="70.8" fill="#000"/>
<rect x="780.5" y="1597.29" width="12.8" height="168.61" fill="#F2999F" stroke="#000" stroke-width="1.2"/>
<rect x="806.4" y="1695.1" width="13.4" height="70.8" fill="#000"/>
<rect x="820.4" y="1661.01" width="12.8" height="104.89" fill="#F2999F" stroke="#000" stroke-width="1.2"/>
<rect x="846.3" y="1695.1" width="13.4" height="70.8" fill="#000"/>
<rect x="860.3" y="1739.6" width="12.8" height="26.3" fill="#F2999F" stroke="#000" stroke-width="1.2"/>
<rect x="886.2" y="1695.1" width="13.4" height="70.8" fill="#000"/>
<rect x="900.2" y="1715.52" width="12.8" height="50.38" fill="#F2999F" stroke="#000" stroke-width="1.2"/>
<path d="M613.7 1697.22V1692.98M610.45 1692.98H616.95M610.45 1697.22H616.95" fill="none" stroke="#000" stroke-width="1.3"/>
<path d="M627.1 1668.9V1658.99M623.85 1658.99H630.35M623.85 1668.9H630.35" fill="none" stroke="#000" stroke-width="1.3"/>
<circle cx="613.7" cy="1691.56" r="3.1" class="m"/>
<circle cx="610.7" cy="1695.81" r="3.1" class="m"/>
<circle cx="613.7" cy="1697.22" r="3.1" class="m"/>
<rect x="624.2" y="1647.6" width="5.8" height="5.8" class="m"/>
<rect x="624.2" y="1662.46" width="5.8" height="5.8" class="m"/>
<rect x="621.2" y="1663.88" width="5.8" height="5.8" class="m"/>
<rect x="624.2" y="1675.92" width="5.8" height="5.8" class="m"/>
<path d="M653.6 1699.35V1690.85M650.35 1690.85H656.85M650.35 1699.35H656.85" fill="none" stroke="#000" stroke-width="1.3"/>
<path d="M667 1690.85V1682.36M663.75 1682.36H670.25M663.75 1690.85H670.25" fill="none" stroke="#000" stroke-width="1.3"/>
<circle cx="653.6" cy="1686.6" r="3.1" class="m"/>
<circle cx="653.6" cy="1692.98" r="3.1" class="m"/>
<circle cx="653.6" cy="1705.72" r="3.1" class="m"/>
<rect x="664.1" y="1670.96" width="5.8" height="5.8" class="m"/>
<rect x="664.1" y="1683.7" width="5.8" height="5.8" class="m"/>
<rect x="661.1" y="1688.66" width="5.8" height="5.8" class="m"/>
<rect x="664.1" y="1694.32" width="5.8" height="5.8" class="m"/>
<path d="M693.5 1697.93V1692.27M690.25 1692.27H696.75M690.25 1697.93H696.75" fill="none" stroke="#000" stroke-width="1.3"/>
<path d="M706.9 1675.98V1668.9M703.65 1668.9H710.15M703.65 1675.98H710.15" fill="none" stroke="#000" stroke-width="1.3"/>
<circle cx="693.5" cy="1690.14" r="3.1" class="m"/>
<circle cx="690.5" cy="1693.68" r="3.1" class="m"/>
<circle cx="693.5" cy="1698.64" r="3.1" class="m"/>
<rect x="704" y="1656.8" width="5.8" height="5.8" class="m"/>
<rect x="704" y="1669.54" width="5.8" height="5.8" class="m"/>
<rect x="701" y="1673.08" width="5.8" height="5.8" class="m"/>
<rect x="707" y="1674.5" width="5.8" height="5.8" class="m"/>
<path d="M733.4 1698.64V1691.56M730.15 1691.56H736.65M730.15 1698.64H736.65" fill="none" stroke="#000" stroke-width="1.3"/>
<path d="M746.8 1689.44V1686.6M743.55 1686.6H750.05M743.55 1689.44H750.05" fill="none" stroke="#000" stroke-width="1.3"/>
<circle cx="733.4" cy="1688.02" r="3.1" class="m"/>
<circle cx="730.4" cy="1691.56" r="3.1" class="m"/>
<circle cx="733.4" cy="1702.18" r="3.1" class="m"/>
<rect x="743.9" y="1685.12" width="5.8" height="5.8" class="m"/>
<rect x="740.9" y="1686.54" width="5.8" height="5.8" class="m"/>
<rect x="746.9" y="1687.95" width="5.8" height="5.8" class="m"/>
<path d="M773.3 1702.18V1688.02M770.05 1688.02H776.55M770.05 1702.18H776.55" fill="none" stroke="#000" stroke-width="1.3"/>
<path d="M786.7 1603.77V1589.61M783.45 1589.61H789.95M783.45 1603.77H789.95" fill="none" stroke="#000" stroke-width="1.3"/>
<circle cx="773.3" cy="1681.65" r="3.1" class="m"/>
<circle cx="773.3" cy="1696.52" r="3.1" class="m"/>
<circle cx="773.3" cy="1706.43" r="3.1" class="m"/>
<rect x="783.8" y="1571.84" width="5.8" height="5.8" class="m"/>
<rect x="783.8" y="1589.54" width="5.8" height="5.8" class="m"/>
<rect x="783.8" y="1601.58" width="5.8" height="5.8" class="m"/>
<rect x="783.8" y="1610.78" width="5.8" height="5.8" class="m"/>
<path d="M813.2 1695.81V1694.39M809.95 1694.39H816.45M809.95 1695.81H816.45" fill="none" stroke="#000" stroke-width="1.3"/>
<path d="M826.6 1668.9V1651.91M823.35 1651.91H829.85M823.35 1668.9H829.85" fill="none" stroke="#000" stroke-width="1.3"/>
<circle cx="813.2" cy="1693.68" r="3.1" class="m"/>
<circle cx="810.2" cy="1696.52" r="3.1" class="m"/>
<rect x="823.7" y="1641.22" width="5.8" height="5.8" class="m"/>
<rect x="823.7" y="1649.72" width="5.8" height="5.8" class="m"/>
<rect x="823.7" y="1656.8" width="5.8" height="5.8" class="m"/>
<rect x="823.7" y="1681.58" width="5.8" height="5.8" class="m"/>
<path d="M853.1 1696.52V1693.68M849.85 1693.68H856.35M849.85 1696.52H856.35" fill="none" stroke="#000" stroke-width="1.3"/>
<path d="M866.5 1740.41V1737.58M863.25 1737.58H869.75M863.25 1740.41H869.75" fill="none" stroke="#000" stroke-width="1.3"/>
<circle cx="853.1" cy="1693.68" r="3.1" class="m"/>
<circle cx="850.1" cy="1696.52" r="3.1" class="m"/>
<rect x="863.6" y="1738.22" width="5.8" height="5.8" class="m"/>
<rect x="860.6" y="1739.64" width="5.8" height="5.8" class="m"/>
<rect x="866.6" y="1741.76" width="5.8" height="5.8" class="m"/>
<path d="M906.4 1719.17V1710.68M903.15 1710.68H909.65M903.15 1719.17H909.65" fill="none" stroke="#000" stroke-width="1.3"/>
<circle cx="893" cy="1695.1" r="3.1" class="m"/>
<circle cx="890" cy="1695.1" r="3.1" class="m"/>
<rect x="903.5" y="1704.94" width="5.8" height="5.8" class="m"/>
<rect x="903.5" y="1712.02" width="5.8" height="5.8" class="m"/>
<rect x="903.5" y="1722.64" width="5.8" height="5.8" class="m"/>
<path d="M614 1556.6V1537.8H627V1556.6" fill="none" stroke="#000" stroke-width="1.3"/>
<text x="601.93" y="1529.87" font-size="18.8" font-weight="bold" letter-spacing="2.82" class="st">***</text>
<path d="M693.8 1556.6V1537.8H706.8V1556.6" fill="none" stroke="#000" stroke-width="1.3"/>
<text x="688.06" y="1529.87" font-size="18.8" font-weight="bold" letter-spacing="2.82" class="st">**</text>
<path d="M773.6 1556.6V1537.8H786.6V1556.6" fill="none" stroke="#000" stroke-width="1.3"/>
<text x="755.21" y="1529.87" font-size="18.8" font-weight="bold" letter-spacing="2.82" class="st">****</text>
<path d="M813.5 1500V1481.3H826.5V1500" fill="none" stroke="#000" stroke-width="1.3"/>
<text x="795.11" y="1472.37" font-size="18.8" font-weight="bold" letter-spacing="2.82" class="st">****</text>
<path d="M853.4 1602.2V1583.7H866.4V1602.2" fill="none" stroke="#000" stroke-width="1.3"/>
<text x="835.01" y="1574.37" font-size="18.8" font-weight="bold" letter-spacing="2.82" class="st">****</text>
<path d="M893.3 1500V1481.3H906.3V1500" fill="none" stroke="#000" stroke-width="1.3"/>
<text x="887.56" y="1472.37" font-size="18.8" font-weight="bold" letter-spacing="2.82" class="st">**</text>
<text transform="translate(628.1 1799.4) rotate(-45)" font-size="24" font-weight="bold" text-anchor="end">Gfap</text>
<text transform="translate(668 1799.4) rotate(-45)" font-size="24" font-weight="bold" text-anchor="end">C3</text>
<text transform="translate(707.9 1799.4) rotate(-45)" font-size="24" font-weight="bold" text-anchor="end">Serpina3n</text>
<text transform="translate(747.8 1799.4) rotate(-45)" font-size="24" font-weight="bold" text-anchor="end">Hspb1</text>
<text transform="translate(787.7 1799.4) rotate(-45)" font-size="24" font-weight="bold" text-anchor="end">Cdh20</text>
<text transform="translate(827.6 1799.4) rotate(-45)" font-size="24" font-weight="bold" text-anchor="end">Rorb</text>
<text transform="translate(867.5 1799.4) rotate(-45)" font-size="24" font-weight="bold" text-anchor="end">Cdh4</text>
<text transform="translate(907.4 1799.4) rotate(-45)" font-size="24" font-weight="bold" text-anchor="end">Csmd1</text>
<text transform="translate(535 1606.6) rotate(-90)" font-size="26.5" font-weight="bold" text-anchor="middle">relative mRNA expression [fold]</text>
<text x="642.4" y="1918.8" font-size="26.5" font-weight="bold" text-anchor="start">KD: <tspan font-size="22.5" letter-spacing="1.65" dy="-3.3">****</tspan></text>
<text x="642.4" y="1949.1" font-size="26.5" font-weight="bold" text-anchor="start">KD x Gene: <tspan font-size="22.5" letter-spacing="1.65" dy="-3.3">****</tspan></text>
<line x1="1115.6" y1="1447.3" x2="1115.6" y2="1766.5" stroke="#000" stroke-width="1.3"/>
<line x1="1103.6" y1="1765.9" x2="1115.6" y2="1765.9" stroke="#000" stroke-width="1.3"/>
<text x="1099.6" y="1774.3" font-size="24" font-weight="bold" text-anchor="end">0.0</text>
<line x1="1103.6" y1="1730.5" x2="1115.6" y2="1730.5" stroke="#000" stroke-width="1.3"/>
<text x="1099.6" y="1738.9" font-size="24" font-weight="bold" text-anchor="end">0.5</text>
<line x1="1103.6" y1="1695.1" x2="1115.6" y2="1695.1" stroke="#000" stroke-width="1.3"/>
<text x="1099.6" y="1703.5" font-size="24" font-weight="bold" text-anchor="end">1.0</text>
<line x1="1103.6" y1="1659.7" x2="1115.6" y2="1659.7" stroke="#000" stroke-width="1.3"/>
<text x="1099.6" y="1668.1" font-size="24" font-weight="bold" text-anchor="end">1.5</text>
<line x1="1103.6" y1="1624.3" x2="1115.6" y2="1624.3" stroke="#000" stroke-width="1.3"/>
<text x="1099.6" y="1632.7" font-size="24" font-weight="bold" text-anchor="end">2.0</text>
<line x1="1103.6" y1="1588.9" x2="1115.6" y2="1588.9" stroke="#000" stroke-width="1.3"/>
<text x="1099.6" y="1597.3" font-size="24" font-weight="bold" text-anchor="end">2.5</text>
<line x1="1103.6" y1="1553.5" x2="1115.6" y2="1553.5" stroke="#000" stroke-width="1.3"/>
<text x="1099.6" y="1561.9" font-size="24" font-weight="bold" text-anchor="end">3.0</text>
<line x1="1103.6" y1="1518.1" x2="1115.6" y2="1518.1" stroke="#000" stroke-width="1.3"/>
<text x="1099.6" y="1526.5" font-size="24" font-weight="bold" text-anchor="end">3.5</text>
<line x1="1103.6" y1="1482.7" x2="1115.6" y2="1482.7" stroke="#000" stroke-width="1.3"/>
<text x="1099.6" y="1491.1" font-size="24" font-weight="bold" text-anchor="end">4.0</text>
<line x1="1103.6" y1="1447.3" x2="1115.6" y2="1447.3" stroke="#000" stroke-width="1.3"/>
<text x="1099.6" y="1455.7" font-size="24" font-weight="bold" text-anchor="end">4.5</text>
<line x1="1103.6" y1="1765.9" x2="1434.9" y2="1765.9" stroke="#000" stroke-width="1.3"/>
<line x1="1135.4" y1="1765.9" x2="1135.4" y2="1778.7" stroke="#000" stroke-width="1.3"/>
<line x1="1175.3" y1="1765.9" x2="1175.3" y2="1778.7" stroke="#000" stroke-width="1.3"/>
<line x1="1215.2" y1="1765.9" x2="1215.2" y2="1778.7" stroke="#000" stroke-width="1.3"/>
<line x1="1255.1" y1="1765.9" x2="1255.1" y2="1778.7" stroke="#000" stroke-width="1.3"/>
<line x1="1295" y1="1765.9" x2="1295" y2="1778.7" stroke="#000" stroke-width="1.3"/>
<line x1="1334.9" y1="1765.9" x2="1334.9" y2="1778.7" stroke="#000" stroke-width="1.3"/>
<line x1="1374.8" y1="1765.9" x2="1374.8" y2="1778.7" stroke="#000" stroke-width="1.3"/>
<line x1="1414.7" y1="1765.9" x2="1414.7" y2="1778.7" stroke="#000" stroke-width="1.3"/>
<rect x="1122" y="1695.1" width="13.4" height="70.8" fill="#000"/>
<rect x="1136" y="1727.56" width="12.8" height="38.34" fill="#F0BE7E" stroke="#000" stroke-width="1.2"/>
<rect x="1161.9" y="1695.1" width="13.4" height="70.8" fill="#000"/>
<rect x="1175.9" y="1744.55" width="12.8" height="21.35" fill="#F0BE7E" stroke="#000" stroke-width="1.2"/>
<rect x="1201.8" y="1695.1" width="13.4" height="70.8" fill="#000"/>
<rect x="1215.8" y="1707.74" width="12.8" height="58.16" fill="#F0BE7E" stroke="#000" stroke-width="1.2"/>
<rect x="1241.7" y="1695.1" width="13.4" height="70.8" fill="#000"/>
<rect x="1255.7" y="1711.98" width="12.8" height="53.92" fill="#F0BE7E" stroke="#000" stroke-width="1.2"/>
<rect x="1281.6" y="1695.1" width="13.4" height="70.8" fill="#000"/>
<rect x="1295.6" y="1553.39" width="12.8" height="212.51" fill="#F0BE7E" stroke="#000" stroke-width="1.2"/>
<rect x="1321.5" y="1695.1" width="13.4" height="70.8" fill="#000"/>
<rect x="1335.5" y="1700.66" width="12.8" height="65.24" fill="#F0BE7E" stroke="#000" stroke-width="1.2"/>
<rect x="1361.4" y="1695.1" width="13.4" height="70.8" fill="#000"/>
<rect x="1375.4" y="1736.06" width="12.8" height="29.84" fill="#F0BE7E" stroke="#000" stroke-width="1.2"/>
<rect x="1401.3" y="1695.1" width="13.4" height="70.8" fill="#000"/>
<rect x="1415.3" y="1699.24" width="12.8" height="66.66" fill="#F0BE7E" stroke="#000" stroke-width="1.2"/>
<path d="M1128.8 1697.22V1692.98M1125.55 1692.98H1132.05M1125.55 1697.22H1132.05" fill="none" stroke="#000" stroke-width="1.3"/>
<path d="M1142.2 1728.38V1725.54M1138.95 1725.54H1145.45M1138.95 1728.38H1145.45" fill="none" stroke="#000" stroke-width="1.3"/>
<circle cx="1128.8" cy="1691.56" r="3.1" class="m"/>
<circle cx="1128.8" cy="1696.52" r="3.1" class="m"/>
<circle cx="1125.8" cy="1697.22" r="3.1" class="m"/>
<polygon points="1142.2,1720.04 1137.7,1728.04 1146.7,1728.04" class="m"/>
<polygon points="1139.2,1721.45 1134.7,1729.45 1143.7,1729.45" class="m"/>
<polygon points="1145.2,1723.58 1140.7,1731.58 1149.7,1731.58" class="m"/>
<path d="M1168.7 1699.35V1690.85M1165.45 1690.85H1171.95M1165.45 1699.35H1171.95" fill="none" stroke="#000" stroke-width="1.3"/>
<path d="M1182.1 1745.37V1742.54M1178.85 1742.54H1185.35M1178.85 1745.37H1185.35" fill="none" stroke="#000" stroke-width="1.3"/>
<circle cx="1168.7" cy="1686.6" r="3.1" class="m"/>
<circle cx="1168.7" cy="1693.68" r="3.1" class="m"/>
<circle cx="1168.7" cy="1705.72" r="3.1" class="m"/>
<polygon points="1182.1,1736.32 1177.6,1744.32 1186.6,1744.32" class="m"/>
<polygon points="1179.1,1738.44 1174.6,1746.44 1183.6,1746.44" class="m"/>
<polygon points="1185.1,1739.86 1180.6,1747.86 1189.6,1747.86" class="m"/>
<path d="M1208.6 1697.93V1692.27M1205.35 1692.27H1211.85M1205.35 1697.93H1211.85" fill="none" stroke="#000" stroke-width="1.3"/>
<path d="M1222 1709.26V1705.01M1218.75 1705.01H1225.25M1218.75 1709.26H1225.25" fill="none" stroke="#000" stroke-width="1.3"/>
<circle cx="1208.6" cy="1690.14" r="3.1" class="m"/>
<circle cx="1205.6" cy="1693.68" r="3.1" class="m"/>
<circle cx="1208.6" cy="1700.76" r="3.1" class="m"/>
<polygon points="1222,1698.8 1217.5,1706.8 1226.5,1706.8" class="m"/>
<polygon points="1219,1702.34 1214.5,1710.34 1223.5,1710.34" class="m"/>
<polygon points="1225,1704.46 1220.5,1712.46 1229.5,1712.46" class="m"/>
<path d="M1248.5 1698.64V1691.56M1245.25 1691.56H1251.75M1245.25 1698.64H1251.75" fill="none" stroke="#000" stroke-width="1.3"/>
<path d="M1261.9 1714.22V1708.55M1258.65 1708.55H1265.15M1258.65 1714.22H1265.15" fill="none" stroke="#000" stroke-width="1.3"/>
<circle cx="1248.5" cy="1689.44" r="3.1" class="m"/>
<circle cx="1245.5" cy="1693.68" r="3.1" class="m"/>
<circle cx="1248.5" cy="1700.76" r="3.1" class="m"/>
<polygon points="1261.9,1698.8 1257.4,1706.8 1266.4,1706.8" class="m"/>
<polygon points="1258.9,1704.46 1254.4,1712.46 1263.4,1712.46" class="m"/>
<polygon points="1261.9,1708 1257.4,1716 1266.4,1716" class="m"/>
<path d="M1288.4 1702.18V1688.02M1285.15 1688.02H1291.65M1285.15 1702.18H1291.65" fill="none" stroke="#000" stroke-width="1.3"/>
<path d="M1301.8 1559.87V1545.71M1298.55 1545.71H1305.05M1298.55 1559.87H1305.05" fill="none" stroke="#000" stroke-width="1.3"/>
<circle cx="1288.4" cy="1681.65" r="3.1" class="m"/>
<circle cx="1288.4" cy="1696.52" r="3.1" class="m"/>
<circle cx="1288.4" cy="1706.43" r="3.1" class="m"/>
<polygon points="1301.8,1533.12 1297.3,1541.12 1306.3,1541.12" class="m"/>
<polygon points="1301.8,1541.62 1297.3,1549.62 1306.3,1549.62" class="m"/>
<polygon points="1301.8,1550.12 1297.3,1558.12 1306.3,1558.12" class="m"/>
<polygon points="1301.8,1564.98 1297.3,1572.98 1306.3,1572.98" class="m"/>
<path d="M1328.3 1695.81V1694.39M1325.05 1694.39H1331.55M1325.05 1695.81H1331.55" fill="none" stroke="#000" stroke-width="1.3"/>
<path d="M1341.7 1705.72V1694.39M1338.45 1694.39H1344.95M1338.45 1705.72H1344.95" fill="none" stroke="#000" stroke-width="1.3"/>
<circle cx="1328.3" cy="1694.39" r="3.1" class="m"/>
<circle cx="1325.3" cy="1695.81" r="3.1" class="m"/>
<polygon points="1341.7,1685.34 1337.2,1693.34 1346.2,1693.34" class="m"/>
<polygon points="1341.7,1692.42 1337.2,1700.42 1346.2,1700.42" class="m"/>
<polygon points="1341.7,1709.42 1337.2,1717.42 1346.2,1717.42" class="m"/>
<path d="M1368.2 1696.52V1693.68M1364.95 1693.68H1371.45M1364.95 1696.52H1371.45" fill="none" stroke="#000" stroke-width="1.3"/>
<path d="M1381.6 1736.87V1734.04M1378.35 1734.04H1384.85M1378.35 1736.87H1384.85" fill="none" stroke="#000" stroke-width="1.3"/>
<circle cx="1368.2" cy="1692.98" r="3.1" class="m"/>
<circle cx="1365.2" cy="1696.52" r="3.1" class="m"/>
<polygon points="1381.6,1728.53 1377.1,1736.53 1386.1,1736.53" class="m"/>
<polygon points="1378.6,1730.66 1374.1,1738.66 1383.1,1738.66" class="m"/>
<polygon points="1384.6,1732.78 1380.1,1740.78 1389.1,1740.78" class="m"/>
<path d="M1421.5 1710.68V1686.6M1418.25 1686.6H1424.75M1418.25 1710.68H1424.75" fill="none" stroke="#000" stroke-width="1.3"/>
<circle cx="1408.1" cy="1695.1" r="3.1" class="m"/>
<circle cx="1405.1" cy="1695.1" r="3.1" class="m"/>
<polygon points="1421.5,1665.52 1417,1673.52 1426,1673.52" class="m"/>
<polygon points="1421.5,1686.76 1417,1694.76 1426,1694.76" class="m"/>
<polygon points="1421.5,1698.8 1417,1706.8 1426,1706.8" class="m"/>
<polygon points="1421.5,1724.28 1417,1732.28 1426,1732.28" class="m"/>
<path d="M1129.1 1576.7V1557.4H1142.1V1576.7" fill="none" stroke="#000" stroke-width="1.3"/>
<text x="1117.03" y="1549.17" font-size="18.8" font-weight="bold" letter-spacing="2.82" class="st">***</text>
<path d="M1169 1519.2V1499.9H1182V1519.2" fill="none" stroke="#000" stroke-width="1.3"/>
<text x="1150.61" y="1491.67" font-size="18.8" font-weight="bold" letter-spacing="2.82" class="st">****</text>
<path d="M1288.7 1519.2V1499.9H1301.7V1519.2" fill="none" stroke="#000" stroke-width="1.3"/>
<text x="1270.31" y="1491.67" font-size="18.8" font-weight="bold" letter-spacing="2.82" class="st">****</text>
<path d="M1368.5 1519.2V1499.9H1381.5V1519.2" fill="none" stroke="#000" stroke-width="1.3"/>
<text x="1350.11" y="1491.67" font-size="18.8" font-weight="bold" letter-spacing="2.82" class="st">****</text>
<text transform="translate(1143.2 1799.4) rotate(-45)" font-size="24" font-weight="bold" text-anchor="end">Gfap</text>
<text transform="translate(1183.1 1799.4) rotate(-45)" font-size="24" font-weight="bold" text-anchor="end">C3</text>
<text transform="translate(1223 1799.4) rotate(-45)" font-size="24" font-weight="bold" text-anchor="end">Serpina3n</text>
<text transform="translate(1262.9 1799.4) rotate(-45)" font-size="24" font-weight="bold" text-anchor="end">Hspb1</text>
<text transform="translate(1302.8 1799.4) rotate(-45)" font-size="24" font-weight="bold" text-anchor="end">Cdh20</text>
<text transform="translate(1342.7 1799.4) rotate(-45)" font-size="24" font-weight="bold" text-anchor="end">Rorb</text>
<text transform="translate(1382.6 1799.4) rotate(-45)" font-size="24" font-weight="bold" text-anchor="end">Cdh4</text>
<text transform="translate(1422.5 1799.4) rotate(-45)" font-size="24" font-weight="bold" text-anchor="end">Csmd1</text>
<text transform="translate(1050.1 1606.6) rotate(-90)" font-size="26.5" font-weight="bold" text-anchor="middle">relative mRNA expression [fold]</text>
<text x="1156.7" y="1918.8" font-size="26.5" font-weight="bold" text-anchor="start">KD: n.s.</text>
<text x="1156.7" y="1949.1" font-size="26.5" font-weight="bold" text-anchor="start">KD x Gene: <tspan font-size="22.5" letter-spacing="1.65" dy="-3.3">****</tspan></text>
<line x1="1634.7" y1="1447.3" x2="1634.7" y2="1766.5" stroke="#000" stroke-width="1.3"/>
<line x1="1622.7" y1="1765.9" x2="1634.7" y2="1765.9" stroke="#000" stroke-width="1.3"/>
<text x="1618.7" y="1774.3" font-size="24" font-weight="bold" text-anchor="end">0.0</text>
<line x1="1622.7" y1="1730.5" x2="1634.7" y2="1730.5" stroke="#000" stroke-width="1.3"/>
<text x="1618.7" y="1738.9" font-size="24" font-weight="bold" text-anchor="end">0.5</text>
<line x1="1622.7" y1="1695.1" x2="1634.7" y2="1695.1" stroke="#000" stroke-width="1.3"/>
<text x="1618.7" y="1703.5" font-size="24" font-weight="bold" text-anchor="end">1.0</text>
<line x1="1622.7" y1="1659.7" x2="1634.7" y2="1659.7" stroke="#000" stroke-width="1.3"/>
<text x="1618.7" y="1668.1" font-size="24" font-weight="bold" text-anchor="end">1.5</text>
<line x1="1622.7" y1="1624.3" x2="1634.7" y2="1624.3" stroke="#000" stroke-width="1.3"/>
<text x="1618.7" y="1632.7" font-size="24" font-weight="bold" text-anchor="end">2.0</text>
<line x1="1622.7" y1="1588.9" x2="1634.7" y2="1588.9" stroke="#000" stroke-width="1.3"/>
<text x="1618.7" y="1597.3" font-size="24" font-weight="bold" text-anchor="end">2.5</text>
<line x1="1622.7" y1="1553.5" x2="1634.7" y2="1553.5" stroke="#000" stroke-width="1.3"/>
<text x="1618.7" y="1561.9" font-size="24" font-weight="bold" text-anchor="end">3.0</text>
<line x1="1622.7" y1="1518.1" x2="1634.7" y2="1518.1" stroke="#000" stroke-width="1.3"/>
<text x="1618.7" y="1526.5" font-size="24" font-weight="bold" text-anchor="end">3.5</text>
<line x1="1622.7" y1="1482.7" x2="1634.7" y2="1482.7" stroke="#000" stroke-width="1.3"/>
<text x="1618.7" y="1491.1" font-size="24" font-weight="bold" text-anchor="end">4.0</text>
<line x1="1622.7" y1="1447.3" x2="1634.7" y2="1447.3" stroke="#000" stroke-width="1.3"/>
<text x="1618.7" y="1455.7" font-size="24" font-weight="bold" text-anchor="end">4.5</text>
<line x1="1622.7" y1="1765.9" x2="1954" y2="1765.9" stroke="#000" stroke-width="1.3"/>
<line x1="1654.5" y1="1765.9" x2="1654.5" y2="1778.7" stroke="#000" stroke-width="1.3"/>
<line x1="1694.4" y1="1765.9" x2="1694.4" y2="1778.7" stroke="#000" stroke-width="1.3"/>
<line x1="1734.3" y1="1765.9" x2="1734.3" y2="1778.7" stroke="#000" stroke-width="1.3"/>
<line x1="1774.2" y1="1765.9" x2="1774.2" y2="1778.7" stroke="#000" stroke-width="1.3"/>
<line x1="1814.1" y1="1765.9" x2="1814.1" y2="1778.7" stroke="#000" stroke-width="1.3"/>
<line x1="1854" y1="1765.9" x2="1854" y2="1778.7" stroke="#000" stroke-width="1.3"/>
<line x1="1893.9" y1="1765.9" x2="1893.9" y2="1778.7" stroke="#000" stroke-width="1.3"/>
<line x1="1933.8" y1="1765.9" x2="1933.8" y2="1778.7" stroke="#000" stroke-width="1.3"/>
<rect x="1641.1" y="1695.1" width="13.4" height="70.8" fill="#000"/>
<rect x="1655.1" y="1665.26" width="12.8" height="100.64" fill="#D5D5D5" stroke="#000" stroke-width="1.2"/>
<rect x="1681" y="1695.1" width="13.4" height="70.8" fill="#000"/>
<rect x="1695" y="1691.45" width="12.8" height="74.45" fill="#D5D5D5" stroke="#000" stroke-width="1.2"/>
<rect x="1720.9" y="1695.1" width="13.4" height="70.8" fill="#000"/>
<rect x="1734.9" y="1724.73" width="12.8" height="41.17" fill="#D5D5D5" stroke="#000" stroke-width="1.2"/>
<rect x="1760.8" y="1695.1" width="13.4" height="70.8" fill="#000"/>
<rect x="1774.8" y="1648.97" width="12.8" height="116.93" fill="#D5D5D5" stroke="#000" stroke-width="1.2"/>
<rect x="1800.7" y="1695.1" width="13.4" height="70.8" fill="#000"/>
<rect x="1814.7" y="1650.39" width="12.8" height="115.51" fill="#D5D5D5" stroke="#000" stroke-width="1.2"/>
<rect x="1840.6" y="1695.1" width="13.4" height="70.8" fill="#000"/>
<rect x="1854.6" y="1743.14" width="12.8" height="22.76" fill="#D5D5D5" stroke="#000" stroke-width="1.2"/>
<rect x="1880.5" y="1695.1" width="13.4" height="70.8" fill="#000"/>
<rect x="1894.5" y="1737.47" width="12.8" height="28.43" fill="#D5D5D5" stroke="#000" stroke-width="1.2"/>
<rect x="1920.4" y="1695.1" width="13.4" height="70.8" fill="#000"/>
<rect x="1934.4" y="1709.15" width="12.8" height="56.75" fill="#D5D5D5" stroke="#000" stroke-width="1.2"/>
<path d="M1647.9 1697.22V1692.98M1644.65 1692.98H1651.15M1644.65 1697.22H1651.15" fill="none" stroke="#000" stroke-width="1.3"/>
<path d="M1661.3 1669.61V1659.7M1658.05 1659.7H1664.55M1658.05 1669.61H1664.55" fill="none" stroke="#000" stroke-width="1.3"/>
<circle cx="1647.9" cy="1691.56" r="3.1" class="m"/>
<circle cx="1647.9" cy="1696.52" r="3.1" class="m"/>
<circle cx="1644.9" cy="1697.22" r="3.1" class="m"/>
<polygon points="1661.3,1655.3 1656.8,1647.3 1665.8,1647.3" class="m"/>
<polygon points="1661.3,1666.62 1656.8,1658.62 1665.8,1658.62" class="m"/>
<polygon points="1658.3,1670.16 1653.8,1662.16 1662.8,1662.16" class="m"/>
<polygon points="1661.3,1682.2 1656.8,1674.2 1665.8,1674.2" class="m"/>
<path d="M1687.8 1699.35V1690.85M1684.55 1690.85H1691.05M1684.55 1699.35H1691.05" fill="none" stroke="#000" stroke-width="1.3"/>
<path d="M1701.2 1692.98V1688.73M1697.95 1688.73H1704.45M1697.95 1692.98H1704.45" fill="none" stroke="#000" stroke-width="1.3"/>
<circle cx="1687.8" cy="1686.6" r="3.1" class="m"/>
<circle cx="1687.8" cy="1693.68" r="3.1" class="m"/>
<circle cx="1687.8" cy="1705.72" r="3.1" class="m"/>
<polygon points="1701.2,1694.94 1696.7,1686.94 1705.7,1686.94" class="m"/>
<polygon points="1698.2,1697.78 1693.7,1689.78 1702.7,1689.78" class="m"/>
<polygon points="1701.2,1701.32 1696.7,1693.32 1705.7,1693.32" class="m"/>
<path d="M1727.7 1697.93V1692.27M1724.45 1692.27H1730.95M1724.45 1697.93H1730.95" fill="none" stroke="#000" stroke-width="1.3"/>
<path d="M1741.1 1726.25V1722M1737.85 1722H1744.35M1737.85 1726.25H1744.35" fill="none" stroke="#000" stroke-width="1.3"/>
<circle cx="1727.7" cy="1690.14" r="3.1" class="m"/>
<circle cx="1724.7" cy="1693.68" r="3.1" class="m"/>
<circle cx="1727.7" cy="1700.76" r="3.1" class="m"/>
<polygon points="1741.1,1726.8 1736.6,1718.8 1745.6,1718.8" class="m"/>
<polygon points="1738.1,1729.64 1733.6,1721.64 1742.6,1721.64" class="m"/>
<polygon points="1744.1,1731.76 1739.6,1723.76 1748.6,1723.76" class="m"/>
<path d="M1767.6 1698.64V1691.56M1764.35 1691.56H1770.85M1764.35 1698.64H1770.85" fill="none" stroke="#000" stroke-width="1.3"/>
<path d="M1781 1654.04V1642.71M1777.75 1642.71H1784.25M1777.75 1654.04H1784.25" fill="none" stroke="#000" stroke-width="1.3"/>
<circle cx="1767.6" cy="1689.44" r="3.1" class="m"/>
<circle cx="1764.6" cy="1693.68" r="3.1" class="m"/>
<circle cx="1767.6" cy="1700.76" r="3.1" class="m"/>
<polygon points="1781,1634.76 1776.5,1626.76 1785.5,1626.76" class="m"/>
<polygon points="1781,1656 1776.5,1648 1785.5,1648" class="m"/>
<polygon points="1781,1664.5 1776.5,1656.5 1785.5,1656.5" class="m"/>
<polygon points="1781,1671.58 1776.5,1663.58 1785.5,1663.58" class="m"/>
<path d="M1807.5 1702.18V1688.02M1804.25 1688.02H1810.75M1804.25 1702.18H1810.75" fill="none" stroke="#000" stroke-width="1.3"/>
<path d="M1820.9 1654.74V1644.83M1817.65 1644.83H1824.15M1817.65 1654.74H1824.15" fill="none" stroke="#000" stroke-width="1.3"/>
<circle cx="1807.5" cy="1681.65" r="3.1" class="m"/>
<circle cx="1807.5" cy="1696.52" r="3.1" class="m"/>
<circle cx="1807.5" cy="1706.43" r="3.1" class="m"/>
<polygon points="1820.9,1636.18 1816.4,1628.18 1825.4,1628.18" class="m"/>
<polygon points="1820.9,1651.76 1816.4,1643.76 1825.4,1643.76" class="m"/>
<polygon points="1820.9,1658.84 1816.4,1650.84 1825.4,1650.84" class="m"/>
<polygon points="1820.9,1668.04 1816.4,1660.04 1825.4,1660.04" class="m"/>
<path d="M1847.4 1695.81V1694.39M1844.15 1694.39H1850.65M1844.15 1695.81H1850.65" fill="none" stroke="#000" stroke-width="1.3"/>
<path d="M1860.8 1743.95V1741.12M1857.55 1741.12H1864.05M1857.55 1743.95H1864.05" fill="none" stroke="#000" stroke-width="1.3"/>
<circle cx="1847.4" cy="1693.68" r="3.1" class="m"/>
<circle cx="1844.4" cy="1695.81" r="3.1" class="m"/>
<polygon points="1860.8,1744.5 1856.3,1736.5 1865.3,1736.5" class="m"/>
<polygon points="1857.8,1745.92 1853.3,1737.92 1862.3,1737.92" class="m"/>
<polygon points="1863.8,1747.34 1859.3,1739.34 1868.3,1739.34" class="m"/>
<path d="M1887.3 1696.52V1693.68M1884.05 1693.68H1890.55M1884.05 1696.52H1890.55" fill="none" stroke="#000" stroke-width="1.3"/>
<path d="M1900.7 1738.29V1735.46M1897.45 1735.46H1903.95M1897.45 1738.29H1903.95" fill="none" stroke="#000" stroke-width="1.3"/>
<circle cx="1887.3" cy="1692.98" r="3.1" class="m"/>
<circle cx="1884.3" cy="1696.52" r="3.1" class="m"/>
<polygon points="1900.7,1738.84 1896.2,1730.84 1905.2,1730.84" class="m"/>
<polygon points="1897.7,1740.96 1893.2,1732.96 1902.2,1732.96" class="m"/>
<polygon points="1903.7,1742.38 1899.2,1734.38 1908.2,1734.38" class="m"/>
<path d="M1940.6 1711.38V1705.72M1937.35 1705.72H1943.85M1937.35 1711.38H1943.85" fill="none" stroke="#000" stroke-width="1.3"/>
<circle cx="1927.2" cy="1695.1" r="3.1" class="m"/>
<circle cx="1924.2" cy="1695.1" r="3.1" class="m"/>
<polygon points="1940.6,1705.56 1936.1,1697.56 1945.1,1697.56" class="m"/>
<polygon points="1937.6,1710.52 1933.1,1702.52 1942.1,1702.52" class="m"/>
<polygon points="1940.6,1717.6 1936.1,1709.6 1945.1,1709.6" class="m"/>
<path d="M1648.2 1612V1593.5H1661.2V1612" fill="none" stroke="#000" stroke-width="1.3"/>
<text x="1629.81" y="1585.37" font-size="18.8" font-weight="bold" letter-spacing="2.82" class="st">****</text>
<path d="M1728 1612V1593.5H1741V1612" fill="none" stroke="#000" stroke-width="1.3"/>
<text x="1709.61" y="1585.37" font-size="18.8" font-weight="bold" letter-spacing="2.82" class="st">****</text>
<path d="M1767.9 1555.3V1536H1780.9V1555.3" fill="none" stroke="#000" stroke-width="1.3"/>
<text x="1749.51" y="1528.57" font-size="18.8" font-weight="bold" letter-spacing="2.82" class="st">****</text>
<path d="M1807.8 1612V1593.5H1820.8V1612" fill="none" stroke="#000" stroke-width="1.3"/>
<text x="1789.41" y="1585.37" font-size="18.8" font-weight="bold" letter-spacing="2.82" class="st">****</text>
<path d="M1847.7 1555.3V1536H1860.7V1555.3" fill="none" stroke="#000" stroke-width="1.3"/>
<text x="1829.31" y="1528.57" font-size="18.8" font-weight="bold" letter-spacing="2.82" class="st">****</text>
<path d="M1887.6 1612V1593.5H1900.6V1612" fill="none" stroke="#000" stroke-width="1.3"/>
<text x="1869.21" y="1585.37" font-size="18.8" font-weight="bold" letter-spacing="2.82" class="st">****</text>
<path d="M1927.5 1555.3V1536H1940.5V1555.3" fill="none" stroke="#000" stroke-width="1.3"/>
<text x="1928.08" y="1528.57" font-size="18.8" font-weight="bold" letter-spacing="2.82" class="st">*</text>
<text transform="translate(1662.3 1799.4) rotate(-45)" font-size="24" font-weight="bold" text-anchor="end">Gfap</text>
<text transform="translate(1702.2 1799.4) rotate(-45)" font-size="24" font-weight="bold" text-anchor="end">C3</text>
<text transform="translate(1742.1 1799.4) rotate(-45)" font-size="24" font-weight="bold" text-anchor="end">Serpina3n</text>
<text transform="translate(1782 1799.4) rotate(-45)" font-size="24" font-weight="bold" text-anchor="end">Hspb1</text>
<text transform="translate(1821.9 1799.4) rotate(-45)" font-size="24" font-weight="bold" text-anchor="end">Cdh20</text>
<text transform="translate(1861.8 1799.4) rotate(-45)" font-size="24" font-weight="bold" text-anchor="end">Rorb</text>
<text transform="translate(1901.7 1799.4) rotate(-45)" font-size="24" font-weight="bold" text-anchor="end">Cdh4</text>
<text transform="translate(1941.6 1799.4) rotate(-45)" font-size="24" font-weight="bold" text-anchor="end">Csmd1</text>
<text transform="translate(1569.2 1606.6) rotate(-90)" font-size="26.5" font-weight="bold" text-anchor="middle">relative mRNA expression [fold]</text>
<text x="1676.7" y="1918.8" font-size="26.5" font-weight="bold" text-anchor="start">KD: n.s</text>
<text x="1676.7" y="1949.1" font-size="26.5" font-weight="bold" text-anchor="start">KD x Gene: <tspan font-size="22.5" letter-spacing="1.65" dy="-3.3">****</tspan></text>
<text x="0" y="31.8" font-size="38.2" font-weight="bold" text-anchor="start">Growth media only</text>
<text x="0.3" y="704.6" font-size="38.2" font-weight="bold" text-anchor="start">Cytokine cocktail</text>
<text x="0" y="1370.3" font-size="38" font-weight="bold" text-anchor="start">Amyloid&#946;42</text>
<text x="57.5" y="95.2" font-size="57" font-weight="bold" text-anchor="start">a</text>
<text x="442.5" y="95.2" font-size="57" font-weight="bold" text-anchor="start">b</text>
<text x="961.5" y="95" font-size="57" font-weight="bold" text-anchor="start">c</text>
<text x="1472.5" y="95" font-size="57" font-weight="bold" text-anchor="start">d</text>
<text x="57.5" y="760" font-size="57" font-weight="bold" text-anchor="start">e</text>
<text x="442.2" y="760" font-size="57" font-weight="bold" text-anchor="start">f</text>
<text x="961.5" y="760" font-size="57" font-weight="bold" text-anchor="start">g</text>
<text x="1472" y="760" font-size="57" font-weight="bold" text-anchor="start">h</text>
<text x="58.5" y="1423.5" font-size="57" font-weight="bold" text-anchor="start">i</text>
<text x="441.2" y="1423.5" font-size="57" font-weight="bold" text-anchor="start">j</text>
<text x="961" y="1423.5" font-size="57" font-weight="bold" text-anchor="start">k</text>
<text x="1473" y="1423.5" font-size="57" font-weight="bold" text-anchor="start">l</text>
<rect x="1975.5" y="103.5" width="22.4" height="21.2" fill="#000"/>
<text x="2031.6" y="125.3" font-size="32.4" font-weight="normal" text-anchor="start" letter-spacing="0.55">shCtrl</text>
<rect x="1976.1" y="145.2" width="21.2" height="20" fill="#F2999F" stroke="#222" stroke-width="1.2"/>
<text x="2031.6" y="166.4" font-size="32.4" font-weight="normal" text-anchor="start" letter-spacing="0.55">shNme7</text>
<rect x="1976.1" y="186.3" width="21.2" height="20" fill="#F0BE7E" stroke="#222" stroke-width="1.2"/>
<text x="2031.6" y="207.5" font-size="32.4" font-weight="normal" text-anchor="start" letter-spacing="0.55">shSt7</text>
<rect x="1976.1" y="227.4" width="21.2" height="20" fill="#D5D5D5" stroke="#222" stroke-width="1.2"/>
<text x="2031.6" y="248.6" font-size="32.4" font-weight="normal" text-anchor="start" letter-spacing="0.55">shThra</text>
</svg>
</body></html>
